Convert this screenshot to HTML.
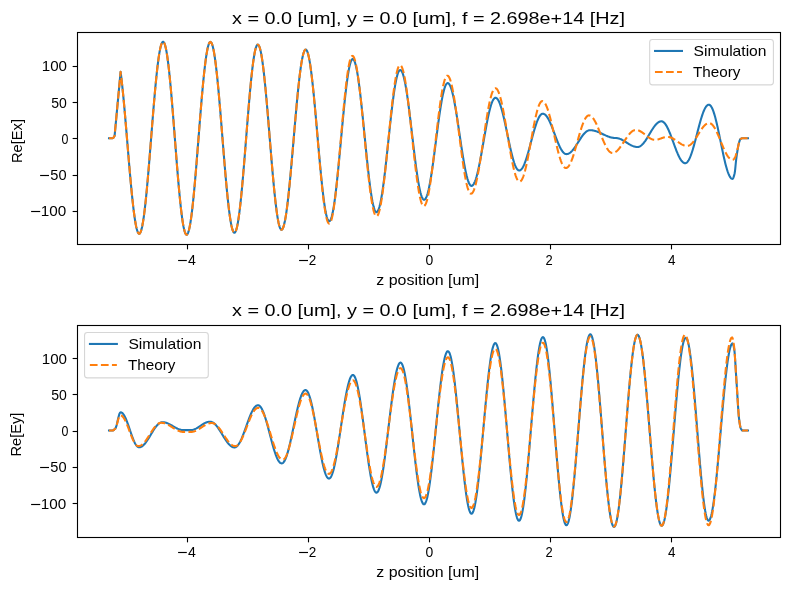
<!DOCTYPE html>
<html><head><meta charset="utf-8"><style>
html,body{margin:0;padding:0;background:#fff;width:790px;height:590px;overflow:hidden}
svg{display:block;will-change:transform}
text{fill:#000}
</style></head><body>
<svg width="790" height="590" viewBox="0 0 790 590" style="font-family:'Liberation Sans',sans-serif;">
<rect width="790" height="590" fill="#fff"/>
<path d="M109.00 138.20L112.60 138.20L113.60 137.60L114.60 135.80L120.60 71.80L121.09 75.64L121.58 79.76L122.07 84.15L122.56 88.78L123.05 93.64L123.54 98.71L124.03 103.96L124.52 109.38L125.01 114.93L125.49 120.61L125.98 126.37L126.47 132.21L126.96 138.09L127.45 143.99L127.94 149.88L128.43 155.74L128.92 161.55L129.41 167.28L129.90 172.91L130.39 178.41L130.88 183.76L131.37 188.94L131.86 193.92L132.35 198.69L132.84 203.22L133.33 207.50L133.82 211.50L134.31 215.22L134.79 218.63L135.28 221.72L135.77 224.48L136.26 226.89L136.75 228.96L137.24 230.65L137.73 231.98L138.22 232.94L138.71 233.51L139.20 233.70L139.70 233.49L140.20 232.88L140.69 231.86L141.19 230.43L141.69 228.61L142.19 226.40L142.69 223.80L143.18 220.85L143.68 217.53L144.18 213.87L144.68 209.89L145.17 205.60L145.67 201.01L146.17 196.16L146.67 191.06L147.17 185.72L147.66 180.19L148.16 174.47L148.66 168.59L149.16 162.58L149.66 156.47L150.15 150.27L150.65 144.03L151.15 137.75L151.65 131.47L152.15 125.23L152.64 119.03L153.14 112.92L153.64 106.91L154.14 101.03L154.64 95.31L155.13 89.78L155.63 84.44L156.13 79.34L156.63 74.49L157.12 69.90L157.62 65.61L158.12 61.63L158.62 57.97L159.12 54.65L159.61 51.70L160.11 49.10L160.61 46.89L161.11 45.07L161.61 43.64L162.10 42.62L162.60 42.01L163.10 41.80L163.60 42.02L164.10 42.66L164.60 43.73L165.10 45.23L165.60 47.14L166.10 49.45L166.60 52.17L167.10 55.26L167.60 58.73L168.10 62.56L168.60 66.72L169.10 71.20L169.60 75.98L170.10 81.04L170.60 86.35L171.10 91.90L171.60 97.65L172.10 103.59L172.60 109.67L173.10 115.89L173.60 122.21L174.10 128.60L174.60 135.03L175.10 141.47L175.60 147.90L176.10 154.29L176.60 160.61L177.10 166.83L177.60 172.91L178.10 178.85L178.60 184.60L179.10 190.15L179.60 195.46L180.10 200.52L180.60 205.30L181.10 209.78L181.60 213.94L182.10 217.77L182.60 221.24L183.10 224.33L183.60 227.05L184.10 229.36L184.60 231.27L185.10 232.77L185.60 233.84L186.10 234.48L186.60 234.70L187.10 234.49L187.59 233.88L188.09 232.85L188.58 231.42L189.08 229.58L189.57 227.36L190.07 224.76L190.57 221.78L191.06 218.45L191.56 214.78L192.05 210.78L192.55 206.47L193.05 201.86L193.54 196.98L194.04 191.86L194.53 186.50L195.03 180.94L195.53 175.19L196.02 169.29L196.52 163.25L197.01 157.11L197.51 150.88L198.00 144.60L198.50 138.30L199.00 132.00L199.49 125.72L199.99 119.49L200.48 113.35L200.98 107.31L201.47 101.41L201.97 95.66L202.47 90.10L202.96 84.74L203.46 79.62L203.95 74.74L204.45 70.13L204.95 65.82L205.44 61.82L205.94 58.15L206.43 54.82L206.93 51.84L207.43 49.24L207.92 47.02L208.42 45.18L208.91 43.75L209.41 42.72L209.90 42.11L210.40 41.90L210.90 42.10L211.40 42.72L211.90 43.73L212.40 45.15L212.90 46.96L213.40 49.16L213.90 51.74L214.40 54.68L214.90 57.98L215.40 61.61L215.90 65.57L216.40 69.84L216.90 74.40L217.40 79.22L217.90 84.30L218.40 89.60L218.90 95.11L219.40 100.79L219.90 106.63L220.40 112.61L220.90 118.69L221.40 124.85L221.90 131.06L222.40 137.30L222.90 143.54L223.40 149.75L223.90 155.91L224.40 161.99L224.90 167.97L225.40 173.81L225.90 179.49L226.40 185.00L226.90 190.30L227.40 195.38L227.90 200.20L228.40 204.76L228.90 209.03L229.40 212.99L229.90 216.62L230.40 219.92L230.90 222.86L231.40 225.44L231.90 227.64L232.40 229.45L232.90 230.87L233.40 231.88L233.90 232.50L234.40 232.70L234.90 232.49L235.40 231.86L235.89 230.82L236.39 229.36L236.89 227.50L237.39 225.24L237.89 222.59L238.38 219.57L238.88 216.19L239.38 212.46L239.88 208.40L240.37 204.03L240.87 199.37L241.37 194.44L241.87 189.26L242.37 183.85L242.86 178.24L243.36 172.45L243.86 166.51L244.36 160.45L244.86 154.29L245.35 148.06L245.85 141.79L246.35 135.51L246.85 129.24L247.34 123.01L247.84 116.85L248.34 110.79L248.84 104.85L249.34 99.06L249.83 93.45L250.33 88.04L250.83 82.86L251.33 77.93L251.83 73.27L252.32 68.90L252.82 64.84L253.32 61.11L253.82 57.73L254.31 54.71L254.81 52.06L255.31 49.80L255.81 47.94L256.31 46.48L256.80 45.44L257.30 44.81L257.80 44.60L258.29 44.80L258.79 45.39L259.28 46.38L259.78 47.75L260.27 49.51L260.76 51.64L261.26 54.14L261.75 57.00L262.24 60.20L262.74 63.73L263.23 67.57L263.73 71.71L264.22 76.13L264.71 80.81L265.21 85.73L265.70 90.87L266.19 96.22L266.69 101.73L267.18 107.40L267.68 113.20L268.17 119.09L268.66 125.07L269.16 131.10L269.65 137.15L270.14 143.20L270.64 149.23L271.13 155.21L271.62 161.10L272.12 166.90L272.61 172.57L273.11 178.08L273.60 183.42L274.09 188.57L274.59 193.49L275.08 198.17L275.57 202.59L276.07 206.73L276.56 210.57L277.06 214.10L277.55 217.30L278.04 220.16L278.54 222.66L279.03 224.79L279.52 226.55L280.02 227.92L280.51 228.91L281.01 229.50L281.50 229.70L281.99 229.51L282.49 228.96L282.98 228.04L283.48 226.75L283.97 225.11L284.46 223.12L284.96 220.78L285.45 218.11L285.94 215.12L286.44 211.82L286.93 208.22L287.43 204.34L287.92 200.19L288.41 195.80L288.91 191.17L289.40 186.33L289.90 181.30L290.39 176.10L290.88 170.75L291.38 165.27L291.87 159.69L292.37 154.02L292.86 148.30L293.35 142.54L293.85 136.76L294.34 131.00L294.83 125.28L295.33 119.61L295.82 114.03L296.32 108.55L296.81 103.20L297.30 98.00L297.80 92.97L298.29 88.13L298.79 83.50L299.28 79.11L299.77 74.96L300.27 71.08L300.76 67.48L301.26 64.18L301.75 61.19L302.24 58.52L302.74 56.18L303.23 54.19L303.72 52.55L304.22 51.26L304.71 50.34L305.21 49.79L305.70 49.60L306.20 49.79L306.70 50.37L307.20 51.32L307.70 52.65L308.20 54.35L308.70 56.41L309.20 58.83L309.70 61.58L310.20 64.67L310.70 68.07L311.20 71.78L311.70 75.77L312.20 80.02L312.70 84.53L313.20 89.26L313.70 94.19L314.20 99.31L314.70 104.59L315.20 110.01L315.70 115.55L316.20 121.17L316.70 126.86L317.20 132.58L317.70 138.32L318.20 144.04L318.70 149.73L319.20 155.35L319.70 160.89L320.20 166.31L320.70 171.59L321.20 176.71L321.70 181.64L322.20 186.37L322.70 190.88L323.20 195.13L323.70 199.12L324.20 202.83L324.70 206.23L325.20 209.32L325.70 212.07L326.20 214.49L326.70 216.55L327.20 218.25L327.70 219.58L328.20 220.53L328.70 221.11L329.20 221.30L329.70 221.12L330.20 220.58L330.70 219.67L331.20 218.42L331.70 216.81L332.20 214.86L332.70 212.58L333.20 209.98L333.70 207.06L334.20 203.85L334.70 200.35L335.20 196.58L335.70 192.56L336.20 188.31L336.70 183.84L337.20 179.18L337.70 174.34L338.20 169.35L338.70 164.23L339.20 159.00L339.70 153.69L340.20 148.32L340.70 142.91L341.20 137.49L341.70 132.08L342.20 126.71L342.70 121.40L343.20 116.17L343.70 111.05L344.20 106.06L344.70 101.22L345.20 96.56L345.70 92.09L346.20 87.84L346.70 83.82L347.20 80.05L347.70 76.55L348.20 73.34L348.70 70.42L349.20 67.82L349.70 65.54L350.20 63.59L350.70 61.98L351.20 60.73L351.70 59.82L352.20 59.28L352.70 59.10L353.20 59.26L353.69 59.75L354.19 60.57L354.68 61.71L355.18 63.16L355.68 64.93L356.17 66.99L356.67 69.36L357.16 72.00L357.66 74.92L358.15 78.10L358.65 81.52L359.15 85.18L359.64 89.05L360.14 93.12L360.63 97.37L361.13 101.79L361.62 106.36L362.12 111.04L362.62 115.84L363.11 120.72L363.61 125.66L364.10 130.64L364.60 135.65L365.10 140.66L365.59 145.64L366.09 150.58L366.58 155.46L367.08 160.26L367.57 164.94L368.07 169.51L368.57 173.92L369.06 178.18L369.56 182.25L370.05 186.12L370.55 189.78L371.05 193.20L371.54 196.38L372.04 199.30L372.53 201.94L373.03 204.31L373.52 206.37L374.02 208.14L374.52 209.59L375.01 210.73L375.51 211.55L376.00 212.04L376.50 212.20L376.99 212.05L377.49 211.59L377.98 210.83L378.48 209.78L378.97 208.43L379.46 206.79L379.96 204.87L380.45 202.67L380.94 200.22L381.44 197.51L381.93 194.56L382.43 191.38L382.92 187.98L383.41 184.38L383.91 180.60L384.40 176.65L384.89 172.55L385.39 168.31L385.88 163.95L386.38 159.50L386.87 154.97L387.36 150.38L387.86 145.75L388.35 141.10L388.84 136.45L389.34 131.82L389.83 127.23L390.32 122.70L390.82 118.25L391.31 113.89L391.81 109.65L392.30 105.55L392.79 101.60L393.29 97.82L393.78 94.22L394.27 90.82L394.77 87.64L395.26 84.69L395.76 81.98L396.25 79.53L396.74 77.33L397.24 75.41L397.73 73.77L398.22 72.42L398.72 71.37L399.21 70.61L399.71 70.15L400.20 70.00L400.70 70.14L401.20 70.56L401.69 71.25L402.19 72.21L402.69 73.44L403.19 74.94L403.69 76.69L404.18 78.69L404.68 80.94L405.18 83.41L405.68 86.11L406.18 89.01L406.67 92.11L407.17 95.39L407.67 98.84L408.17 102.45L408.66 106.20L409.16 110.06L409.66 114.04L410.16 118.10L410.66 122.24L411.15 126.43L411.65 130.66L412.15 134.90L412.65 139.14L413.15 143.37L413.64 147.56L414.14 151.70L414.64 155.76L415.14 159.74L415.64 163.60L416.13 167.35L416.63 170.96L417.13 174.41L417.63 177.69L418.12 180.79L418.62 183.69L419.12 186.39L419.62 188.86L420.12 191.11L420.61 193.11L421.11 194.86L421.61 196.36L422.11 197.59L422.61 198.55L423.10 199.24L423.60 199.66L424.10 199.80L424.59 199.68L425.08 199.30L425.58 198.68L426.07 197.81L426.56 196.70L427.05 195.36L427.54 193.78L428.03 191.98L428.53 189.97L429.02 187.74L429.51 185.32L430.00 182.71L430.49 179.92L430.98 176.97L431.48 173.87L431.97 170.62L432.46 167.26L432.95 163.78L433.44 160.21L433.93 156.55L434.43 152.83L434.92 149.07L435.41 145.27L435.90 141.45L436.39 137.63L436.88 133.83L437.38 130.07L437.87 126.35L438.36 122.69L438.85 119.12L439.34 115.64L439.83 112.28L440.32 109.03L440.82 105.93L441.31 102.98L441.80 100.19L442.29 97.58L442.78 95.16L443.27 92.93L443.77 90.92L444.26 89.12L444.75 87.54L445.24 86.20L445.73 85.09L446.22 84.22L446.72 83.60L447.21 83.22L447.70 83.10L448.20 83.21L448.69 83.54L449.19 84.09L449.68 84.85L450.18 85.83L450.68 87.01L451.17 88.40L451.67 89.99L452.16 91.76L452.66 93.72L453.15 95.86L453.65 98.15L454.15 100.61L454.64 103.21L455.14 105.94L455.63 108.80L456.13 111.77L456.62 114.83L457.12 117.98L457.62 121.20L458.11 124.47L458.61 127.79L459.10 131.14L459.60 134.50L460.10 137.86L460.59 141.21L461.09 144.53L461.58 147.80L462.08 151.02L462.57 154.17L463.07 157.23L463.57 160.20L464.06 163.06L464.56 165.79L465.05 168.39L465.55 170.85L466.05 173.14L466.54 175.28L467.04 177.24L467.53 179.01L468.03 180.60L468.52 181.99L469.02 183.17L469.52 184.15L470.01 184.91L470.51 185.46L471.00 185.79L471.50 185.90L472.00 185.81L472.50 185.52L473.00 185.05L473.50 184.40L474.00 183.56L474.50 182.55L475.00 181.36L475.50 180.00L476.00 178.48L476.50 176.80L477.00 174.97L477.50 173.00L478.00 170.89L478.50 168.67L479.00 166.32L479.50 163.88L480.00 161.33L480.50 158.71L481.00 156.01L481.50 153.25L482.00 150.44L482.50 147.60L483.00 144.73L483.50 141.85L484.00 138.97L484.50 136.10L485.00 133.26L485.50 130.45L486.00 127.69L486.50 124.99L487.00 122.37L487.50 119.83L488.00 117.38L488.50 115.03L489.00 112.81L489.50 110.70L490.00 108.73L490.50 106.90L491.00 105.22L491.50 103.70L492.00 102.34L492.50 101.15L493.00 100.14L493.50 99.30L494.00 98.65L494.50 98.18L495.00 97.89L495.50 97.80L495.99 97.88L496.49 98.11L496.98 98.50L497.48 99.04L497.97 99.73L498.46 100.57L498.96 101.55L499.45 102.67L499.94 103.93L500.44 105.31L500.93 106.82L501.43 108.45L501.92 110.18L502.41 112.02L502.91 113.96L503.40 115.97L503.89 118.07L504.39 120.24L504.88 122.47L505.38 124.74L505.87 127.06L506.36 129.41L506.86 131.77L507.35 134.15L507.84 136.53L508.34 138.89L508.83 141.24L509.33 143.56L509.82 145.83L510.31 148.06L510.81 150.23L511.30 152.32L511.79 154.34L512.29 156.28L512.78 158.12L513.28 159.85L513.77 161.48L514.26 162.99L514.76 164.37L515.25 165.63L515.74 166.75L516.24 167.73L516.73 168.57L517.23 169.26L517.72 169.80L518.21 170.19L518.71 170.42L519.20 170.50L519.69 170.44L520.18 170.26L520.68 169.95L521.17 169.53L521.66 168.99L522.15 168.34L522.64 167.57L523.13 166.70L523.62 165.71L524.12 164.63L524.61 163.45L525.10 162.18L525.59 160.83L526.08 159.39L526.58 157.88L527.07 156.30L527.56 154.66L528.05 152.97L528.54 151.23L529.03 149.45L529.52 147.64L530.02 145.81L530.51 143.96L531.00 142.10L531.49 140.24L531.98 138.39L532.48 136.56L532.97 134.75L533.46 132.97L533.95 131.23L534.44 129.54L534.93 127.90L535.42 126.32L535.92 124.81L536.41 123.37L536.90 122.02L537.39 120.75L537.88 119.57L538.38 118.49L538.87 117.50L539.36 116.63L539.85 115.86L540.34 115.21L540.83 114.67L541.32 114.25L541.82 113.94L542.31 113.76L542.80 113.70L543.29 113.74L543.78 113.87L544.27 114.09L544.77 114.39L545.26 114.77L545.75 115.24L546.24 115.78L546.73 116.41L547.22 117.10L547.72 117.87L548.21 118.71L548.70 119.62L549.19 120.58L549.68 121.60L550.17 122.68L550.67 123.80L551.16 124.97L551.65 126.17L552.14 127.41L552.63 128.67L553.12 129.96L553.62 131.26L554.11 132.58L554.60 133.90L555.09 135.22L555.58 136.54L556.07 137.84L556.57 139.13L557.06 140.39L557.55 141.63L558.04 142.83L558.53 144.00L559.02 145.12L559.52 146.20L560.01 147.22L560.50 148.18L560.99 149.09L561.48 149.93L561.98 150.70L562.47 151.39L562.96 152.02L563.45 152.56L563.94 153.03L564.43 153.41L564.92 153.71L565.42 153.93L565.91 154.06L566.40 154.10L566.89 154.07L567.38 154.00L567.88 153.87L568.37 153.69L568.86 153.47L569.35 153.19L569.84 152.87L570.33 152.50L570.82 152.09L571.32 151.63L571.81 151.13L572.30 150.60L572.79 150.03L573.28 149.42L573.77 148.79L574.27 148.12L574.76 147.44L575.25 146.72L575.74 145.99L576.23 145.24L576.73 144.48L577.22 143.71L577.71 142.93L578.20 142.15L578.69 141.37L579.18 140.59L579.67 139.82L580.17 139.06L580.66 138.31L581.15 137.58L581.64 136.86L582.13 136.17L582.62 135.51L583.12 134.88L583.61 134.27L584.10 133.70L584.59 133.17L585.08 132.67L585.58 132.21L586.07 131.80L586.56 131.43L587.05 131.11L587.54 130.83L588.03 130.61L588.52 130.43L589.02 130.30L589.51 130.23L590.00 130.20L590.50 130.21L591.00 130.23L591.50 130.27L592.00 130.32L592.50 130.38L593.00 130.46L593.50 130.56L594.00 130.66L594.50 130.78L595.00 130.92L595.50 131.06L596.00 131.22L596.50 131.39L597.00 131.56L597.50 131.75L598.00 131.95L598.50 132.15L599.00 132.36L599.50 132.58L600.00 132.80L600.50 133.03L601.00 133.27L601.50 133.50L602.00 133.74L602.50 133.98L603.00 134.22L603.50 134.46L604.00 134.70L604.50 134.93L605.00 135.17L605.50 135.40L606.00 135.62L606.50 135.84L607.00 136.05L607.50 136.25L608.00 136.45L608.50 136.64L609.00 136.81L609.50 136.98L610.00 137.14L610.50 137.28L611.00 137.42L611.50 137.54L612.00 137.64L612.50 137.74L613.00 137.82L613.50 137.88L614.00 137.93L614.50 137.97L615.00 137.99L615.50 138.00L616.00 138.01L616.50 138.05L617.00 138.10L617.50 138.18L618.00 138.28L618.50 138.41L619.00 138.55L619.50 138.71L620.00 138.90L620.50 139.10L621.00 139.32L621.50 139.55L622.00 139.80L622.50 140.07L623.00 140.34L623.50 140.63L624.00 140.93L624.50 141.23L625.00 141.54L625.50 141.86L626.00 142.18L626.50 142.50L627.00 142.82L627.50 143.14L628.00 143.46L628.50 143.77L629.00 144.07L629.50 144.37L630.00 144.66L630.50 144.93L631.00 145.20L631.50 145.45L632.00 145.68L632.50 145.90L633.00 146.10L633.50 146.29L634.00 146.45L634.50 146.59L635.00 146.72L635.50 146.82L636.00 146.90L636.50 146.95L637.00 146.99L637.50 147.00L638.00 146.97L638.50 146.89L638.99 146.75L639.49 146.56L639.99 146.32L640.49 146.02L640.99 145.67L641.48 145.28L641.98 144.83L642.48 144.34L642.98 143.81L643.48 143.24L643.97 142.62L644.47 141.97L644.97 141.29L645.47 140.57L645.96 139.83L646.46 139.07L646.96 138.28L647.46 137.48L647.96 136.66L648.45 135.83L648.95 134.99L649.45 134.15L649.95 133.31L650.45 132.47L650.94 131.64L651.44 130.82L651.94 130.02L652.44 129.23L652.94 128.47L653.43 127.72L653.93 127.01L654.43 126.33L654.93 125.68L655.42 125.06L655.92 124.49L656.42 123.96L656.92 123.47L657.42 123.02L657.91 122.63L658.41 122.28L658.91 121.98L659.41 121.74L659.91 121.55L660.40 121.41L660.90 121.33L661.40 121.30L661.90 121.34L662.39 121.48L662.89 121.70L663.38 122.01L663.88 122.41L664.38 122.89L664.87 123.46L665.37 124.11L665.86 124.83L666.36 125.63L666.85 126.50L667.35 127.44L667.85 128.44L668.34 129.50L668.84 130.61L669.33 131.78L669.83 132.98L670.33 134.23L670.82 135.52L671.32 136.83L671.81 138.16L672.31 139.52L672.80 140.88L673.30 142.25L673.80 143.62L674.29 144.98L674.79 146.34L675.28 147.67L675.78 148.98L676.27 150.27L676.77 151.52L677.27 152.72L677.76 153.89L678.26 155.00L678.75 156.06L679.25 157.06L679.75 158.00L680.24 158.87L680.74 159.67L681.23 160.39L681.73 161.04L682.23 161.61L682.72 162.09L683.22 162.49L683.71 162.80L684.21 163.02L684.70 163.16L685.20 163.20L685.69 163.14L686.18 162.95L686.68 162.64L687.17 162.20L687.66 161.65L688.15 160.97L688.64 160.18L689.13 159.28L689.62 158.27L690.12 157.16L690.61 155.94L691.10 154.63L691.59 153.24L692.08 151.76L692.58 150.20L693.07 148.57L693.56 146.89L694.05 145.14L694.54 143.35L695.03 141.52L695.52 139.66L696.02 137.77L696.51 135.86L697.00 133.95L697.49 132.04L697.98 130.13L698.48 128.24L698.97 126.38L699.46 124.55L699.95 122.76L700.44 121.01L700.93 119.33L701.42 117.70L701.92 116.14L702.41 114.66L702.90 113.27L703.39 111.96L703.88 110.74L704.38 109.63L704.87 108.62L705.36 107.72L705.85 106.93L706.34 106.25L706.83 105.70L707.32 105.26L707.82 104.95L708.31 104.76L708.80 104.70L709.29 104.78L709.79 105.02L710.28 105.41L710.77 105.96L711.27 106.67L711.76 107.52L712.26 108.53L712.75 109.67L713.24 110.95L713.74 112.37L714.23 113.91L714.72 115.57L715.22 117.34L715.71 119.21L716.21 121.19L716.70 123.25L717.19 125.39L717.69 127.60L718.18 129.87L718.67 132.20L719.17 134.56L719.66 136.96L720.16 139.37L720.65 141.80L721.14 144.23L721.64 146.64L722.13 149.04L722.62 151.40L723.12 153.73L723.61 156.00L724.11 158.21L724.60 160.35L725.09 162.41L725.59 164.39L726.08 166.26L726.58 168.03L727.07 169.69L727.56 171.23L728.06 172.65L728.55 173.93L729.04 175.07L729.54 176.08L730.03 176.93L730.52 177.64L731.02 178.19L731.51 178.58L732.01 178.82L732.50 178.90L732.85 178.70L733.20 178.13L733.55 177.27L733.90 176.17L734.25 174.89L734.60 173.50L734.92 171.59L735.24 168.77L735.56 165.50L735.88 162.23L736.20 159.40L736.53 156.97L736.85 154.67L737.17 152.52L737.50 150.50L737.85 148.40L738.20 146.37L738.55 144.55L738.90 143.10L739.27 141.81L739.65 140.65L740.02 139.73L740.40 139.20L740.77 138.92L741.13 138.68L741.50 138.48L741.87 138.33L742.23 138.23L742.60 138.20L748.00 138.20" fill="none" stroke="#1f77b4" stroke-width="2.08" stroke-linejoin="round" stroke-linecap="square"/>
<path d="M109.00 138.20L112.60 138.20L113.60 137.60L114.60 135.80L120.60 71.80L121.09 75.64L121.58 79.76L122.07 84.15L122.56 88.78L123.05 93.64L123.54 98.71L124.03 103.96L124.52 109.38L125.01 114.93L125.49 120.61L125.98 126.37L126.47 132.21L126.96 138.09L127.45 143.99L127.94 149.88L128.43 155.74L128.92 161.55L129.41 167.28L129.90 172.91L130.39 178.41L130.88 183.76L131.37 188.94L131.86 193.92L132.35 198.69L132.84 203.22L133.33 207.50L133.82 211.50L134.31 215.22L134.79 218.63L135.28 221.72L135.77 224.48L136.26 226.89L136.75 228.96L137.24 230.65L137.73 231.98L138.22 232.94L138.71 233.51L139.20 233.70L139.70 233.49L140.20 232.88L140.69 231.86L141.19 230.43L141.69 228.61L142.19 226.40L142.69 223.80L143.18 220.85L143.68 217.53L144.18 213.87L144.68 209.89L145.17 205.60L145.67 201.01L146.17 196.16L146.67 191.06L147.17 185.72L147.66 180.19L148.16 174.47L148.66 168.59L149.16 162.58L149.66 156.47L150.15 150.27L150.65 144.03L151.15 137.75L151.65 131.47L152.15 125.23L152.64 119.03L153.14 112.92L153.64 106.91L154.14 101.03L154.64 95.31L155.13 89.78L155.63 84.44L156.13 79.34L156.63 74.49L157.12 69.90L157.62 65.61L158.12 61.63L158.62 57.97L159.12 54.65L159.61 51.70L160.11 49.10L160.61 46.89L161.11 45.07L161.61 43.64L162.10 42.62L162.60 42.01L163.10 41.80L163.60 42.02L164.10 42.66L164.60 43.73L165.10 45.23L165.60 47.14L166.10 49.45L166.60 52.17L167.10 55.26L167.60 58.73L168.10 62.56L168.60 66.72L169.10 71.20L169.60 75.98L170.10 81.04L170.60 86.35L171.10 91.90L171.60 97.65L172.10 103.59L172.60 109.67L173.10 115.89L173.60 122.21L174.10 128.60L174.60 135.03L175.10 141.47L175.60 147.90L176.10 154.29L176.60 160.61L177.10 166.83L177.60 172.91L178.10 178.85L178.60 184.60L179.10 190.15L179.60 195.46L180.10 200.52L180.60 205.30L181.10 209.78L181.60 213.94L182.10 217.77L182.60 221.24L183.10 224.33L183.60 227.05L184.10 229.36L184.60 231.27L185.10 232.77L185.60 233.84L186.10 234.48L186.60 234.70L187.10 234.49L187.59 233.88L188.09 232.85L188.58 231.42L189.08 229.58L189.57 227.36L190.07 224.76L190.57 221.78L191.06 218.45L191.56 214.78L192.05 210.78L192.55 206.47L193.05 201.86L193.54 196.98L194.04 191.86L194.53 186.50L195.03 180.94L195.53 175.19L196.02 169.29L196.52 163.25L197.01 157.11L197.51 150.88L198.00 144.60L198.50 138.30L199.00 132.00L199.49 125.72L199.99 119.49L200.48 113.35L200.98 107.31L201.47 101.41L201.97 95.66L202.47 90.10L202.96 84.74L203.46 79.62L203.95 74.74L204.45 70.13L204.95 65.82L205.44 61.82L205.94 58.15L206.43 54.82L206.93 51.84L207.43 49.24L207.92 47.02L208.42 45.18L208.91 43.75L209.41 42.72L209.90 42.11L210.40 41.90L210.90 42.10L211.40 42.72L211.90 43.73L212.40 45.15L212.90 46.96L213.40 49.16L213.90 51.74L214.40 54.68L214.90 57.98L215.40 61.61L215.90 65.57L216.40 69.84L216.90 74.40L217.40 79.22L217.90 84.30L218.40 89.60L218.90 95.11L219.40 100.79L219.90 106.63L220.40 112.61L220.90 118.69L221.40 124.85L221.90 131.06L222.40 137.30L222.90 143.54L223.40 149.75L223.90 155.91L224.40 161.99L224.90 167.97L225.40 173.81L225.90 179.49L226.40 185.00L226.90 190.30L227.40 195.38L227.90 200.20L228.40 204.76L228.90 209.03L229.40 212.99L229.90 216.62L230.40 219.92L230.90 222.86L231.40 225.44L231.90 227.64L232.40 229.45L232.90 230.87L233.40 231.88L233.90 232.50L234.40 232.70L234.90 232.49L235.40 231.86L235.89 230.82L236.39 229.36L236.89 227.50L237.39 225.24L237.89 222.59L238.38 219.57L238.88 216.19L239.38 212.46L239.88 208.40L240.37 204.03L240.87 199.37L241.37 194.44L241.87 189.26L242.37 183.85L242.86 178.24L243.36 172.45L243.86 166.51L244.36 160.45L244.86 154.29L245.35 148.06L245.85 141.79L246.35 135.51L246.85 129.24L247.34 123.01L247.84 116.85L248.34 110.79L248.84 104.85L249.34 99.06L249.83 93.45L250.33 88.04L250.83 82.86L251.33 77.93L251.83 73.27L252.32 68.90L252.82 64.84L253.32 61.11L253.82 57.73L254.31 54.71L254.81 52.06L255.31 49.80L255.81 47.94L256.31 46.48L256.80 45.44L257.30 44.81L257.80 44.60L258.29 44.80L258.79 45.39L259.28 46.38L259.78 47.75L260.27 49.51L260.76 51.64L261.26 54.14L261.75 57.00L262.24 60.20L262.74 63.73L263.23 67.57L263.73 71.71L264.22 76.13L264.71 80.81L265.21 85.73L265.70 90.87L266.19 96.22L266.69 101.73L267.18 107.40L267.68 113.20L268.17 119.09L268.66 125.07L269.16 131.10L269.65 137.15L270.14 143.20L270.64 149.23L271.13 155.21L271.62 161.10L272.12 166.90L272.61 172.57L273.11 178.08L273.60 183.42L274.09 188.57L274.59 193.49L275.08 198.17L275.57 202.59L276.07 206.73L276.56 210.57L277.06 214.10L277.55 217.30L278.04 220.16L278.54 222.66L279.03 224.79L279.52 226.55L280.02 227.92L280.51 228.91L281.01 229.50L281.50 229.70L281.99 229.51L282.49 228.96L282.98 228.04L283.48 226.75L283.97 225.11L284.46 223.12L284.96 220.78L285.45 218.11L285.94 215.12L286.44 211.82L286.93 208.22L287.43 204.34L287.92 200.19L288.41 195.80L288.91 191.17L289.40 186.33L289.90 181.30L290.39 176.10L290.88 170.75L291.38 165.27L291.87 159.69L292.37 154.02L292.86 148.30L293.35 142.54L293.85 136.76L294.34 131.00L294.83 125.28L295.33 119.61L295.82 114.03L296.32 108.55L296.81 103.20L297.30 98.00L297.80 92.97L298.29 88.13L298.79 83.50L299.28 79.11L299.77 74.96L300.27 71.08L300.76 67.48L301.26 64.18L301.75 61.19L302.24 58.52L302.74 56.18L303.23 54.19L303.72 52.55L304.22 51.26L304.71 50.34L305.21 49.79L305.70 49.60L306.20 49.79L306.70 50.38L307.20 51.34L307.70 52.69L308.20 54.41L308.70 56.50L309.20 58.95L309.70 61.75L310.20 64.87L310.70 68.32L311.20 72.08L311.70 76.12L312.20 80.43L312.70 84.99L313.20 89.79L313.70 94.79L314.20 99.98L314.70 105.33L315.20 110.82L315.70 116.43L316.20 122.13L316.70 127.89L317.20 133.69L317.70 139.51L318.20 145.31L318.70 151.07L319.20 156.77L319.70 162.38L320.20 167.87L320.70 173.22L321.20 178.41L321.70 183.41L322.20 188.21L322.70 192.77L323.20 197.08L323.70 201.12L324.20 204.88L324.70 208.33L325.20 211.45L325.70 214.25L326.20 216.70L326.70 218.79L327.20 220.51L327.70 221.86L328.20 222.82L328.70 223.41L329.20 223.60L329.69 223.41L330.19 222.85L330.68 221.92L331.17 220.62L331.67 218.96L332.16 216.95L332.66 214.59L333.15 211.89L333.64 208.88L334.14 205.56L334.63 201.94L335.12 198.04L335.62 193.89L336.11 189.49L336.60 184.87L337.10 180.05L337.59 175.05L338.09 169.89L338.58 164.59L339.07 159.19L339.57 153.70L340.06 148.14L340.55 142.55L341.05 136.95L341.54 131.36L342.03 125.80L342.53 120.31L343.02 114.91L343.51 109.61L344.01 104.45L344.50 99.45L345.00 94.63L345.49 90.01L345.98 85.61L346.48 81.46L346.97 77.56L347.46 73.94L347.96 70.62L348.45 67.61L348.94 64.91L349.44 62.55L349.93 60.54L350.43 58.88L350.92 57.58L351.41 56.65L351.91 56.09L352.40 55.90L352.89 56.06L353.38 56.56L353.88 57.38L354.37 58.52L354.86 59.99L355.35 61.76L355.84 63.84L356.33 66.22L356.83 68.89L357.32 71.83L357.81 75.03L358.30 78.49L358.79 82.18L359.29 86.10L359.78 90.22L360.27 94.52L360.76 99.00L361.25 103.64L361.74 108.40L362.24 113.28L362.73 118.25L363.22 123.30L363.71 128.40L364.20 133.53L364.70 138.67L365.19 143.80L365.68 148.90L366.17 153.95L366.66 158.92L367.16 163.80L367.65 168.56L368.14 173.20L368.63 177.68L369.12 181.98L369.61 186.10L370.11 190.02L370.60 193.71L371.09 197.17L371.58 200.37L372.07 203.31L372.57 205.98L373.06 208.36L373.55 210.44L374.04 212.21L374.53 213.68L375.02 214.82L375.52 215.64L376.01 216.14L376.50 216.30L376.99 216.14L377.48 215.65L377.98 214.85L378.47 213.73L378.96 212.29L379.45 210.55L379.94 208.51L380.43 206.18L380.93 203.57L381.42 200.69L381.91 197.55L382.40 194.17L382.89 190.56L383.38 186.74L383.88 182.72L384.37 178.53L384.86 174.16L385.35 169.66L385.84 165.03L386.33 160.30L386.82 155.49L387.32 150.61L387.81 145.69L388.30 140.75L388.79 135.81L389.28 130.89L389.78 126.01L390.27 121.20L390.76 116.47L391.25 111.84L391.74 107.34L392.23 102.98L392.73 98.78L393.22 94.76L393.71 90.94L394.20 87.33L394.69 83.95L395.18 80.81L395.68 77.93L396.17 75.32L396.66 72.99L397.15 70.95L397.64 69.21L398.13 67.77L398.62 66.65L399.12 65.85L399.61 65.36L400.10 65.20L400.59 65.35L401.09 65.80L401.58 66.55L402.08 67.60L402.57 68.94L403.06 70.56L403.56 72.47L404.05 74.64L404.54 77.07L405.04 79.76L405.53 82.68L406.03 85.83L406.52 89.20L407.01 92.76L407.51 96.51L408.00 100.42L408.49 104.49L408.99 108.69L409.48 113.00L409.98 117.42L410.47 121.91L410.96 126.45L411.46 131.04L411.95 135.65L412.44 140.26L412.94 144.85L413.43 149.39L413.93 153.88L414.42 158.30L414.91 162.61L415.41 166.81L415.90 170.87L416.39 174.79L416.89 178.54L417.38 182.10L417.88 185.47L418.37 188.62L418.86 191.54L419.36 194.23L419.85 196.66L420.34 198.83L420.84 200.74L421.33 202.36L421.82 203.70L422.32 204.75L422.81 205.50L423.31 205.95L423.80 206.10L424.29 205.96L424.78 205.54L425.28 204.85L425.77 203.88L426.26 202.64L426.75 201.14L427.24 199.38L427.73 197.36L428.23 195.11L428.72 192.63L429.21 189.92L429.70 187.00L430.19 183.89L430.68 180.59L431.18 177.12L431.67 173.50L432.16 169.74L432.65 165.85L433.14 161.86L433.63 157.78L434.12 153.62L434.62 149.41L435.11 145.16L435.60 140.90L436.09 136.64L436.58 132.39L437.07 128.18L437.57 124.02L438.06 119.94L438.55 115.95L439.04 112.06L439.53 108.30L440.02 104.68L440.52 101.21L441.01 97.91L441.50 94.80L441.99 91.88L442.48 89.17L442.97 86.69L443.47 84.44L443.96 82.42L444.45 80.66L444.94 79.16L445.43 77.92L445.92 76.95L446.42 76.26L446.91 75.84L447.40 75.70L447.89 75.83L448.38 76.20L448.88 76.83L449.37 77.71L449.86 78.83L450.35 80.19L450.84 81.78L451.33 83.60L451.82 85.64L452.32 87.89L452.81 90.34L453.30 92.98L453.79 95.80L454.28 98.78L454.77 101.92L455.27 105.20L455.76 108.60L456.25 112.12L456.74 115.74L457.23 119.43L457.72 123.19L458.22 127.00L458.71 130.84L459.20 134.70L459.69 138.56L460.18 142.40L460.68 146.21L461.17 149.97L461.66 153.66L462.15 157.28L462.64 160.80L463.13 164.20L463.62 167.48L464.12 170.62L464.61 173.60L465.10 176.42L465.59 179.06L466.08 181.51L466.57 183.76L467.07 185.80L467.56 187.62L468.05 189.21L468.54 190.57L469.03 191.69L469.52 192.57L470.02 193.20L470.51 193.57L471.00 193.70L471.50 193.59L472.00 193.27L472.49 192.73L472.99 191.97L473.49 191.01L473.99 189.84L474.49 188.48L474.98 186.91L475.48 185.16L475.98 183.22L476.48 181.12L476.98 178.84L477.47 176.41L477.97 173.84L478.47 171.13L478.97 168.30L479.47 165.35L479.96 162.30L480.46 159.17L480.96 155.96L481.46 152.69L481.96 149.37L482.45 146.02L482.95 142.64L483.45 139.26L483.95 135.88L484.44 132.53L484.94 129.21L485.44 125.94L485.94 122.73L486.44 119.60L486.93 116.55L487.43 113.60L487.93 110.77L488.43 108.06L488.93 105.49L489.42 103.06L489.92 100.78L490.42 98.68L490.92 96.74L491.42 94.99L491.91 93.42L492.41 92.06L492.91 90.89L493.41 89.93L493.91 89.17L494.40 88.63L494.90 88.31L495.40 88.20L495.89 88.30L496.39 88.58L496.88 89.06L497.38 89.73L497.87 90.58L498.36 91.61L498.86 92.82L499.35 94.21L499.84 95.76L500.34 97.47L500.83 99.34L501.33 101.35L501.82 103.50L502.31 105.78L502.81 108.18L503.30 110.69L503.80 113.30L504.29 116.00L504.78 118.77L505.28 121.61L505.77 124.51L506.27 127.45L506.76 130.42L507.25 133.40L507.75 136.40L508.24 139.38L508.73 142.35L509.23 145.29L509.72 148.19L510.22 151.03L510.71 153.80L511.20 156.50L511.70 159.11L512.19 161.62L512.69 164.02L513.18 166.30L513.67 168.45L514.17 170.46L514.66 172.33L515.16 174.04L515.65 175.59L516.14 176.98L516.64 178.19L517.13 179.22L517.62 180.07L518.12 180.74L518.61 181.22L519.11 181.50L519.60 181.60L520.09 181.51L520.59 181.23L521.08 180.76L521.57 180.11L522.07 179.28L522.56 178.27L523.05 177.09L523.55 175.74L524.04 174.23L524.53 172.57L525.03 170.77L525.52 168.82L526.02 166.75L526.51 164.56L527.00 162.26L527.50 159.87L527.99 157.39L528.48 154.83L528.98 152.21L529.47 149.54L529.96 146.83L530.46 144.10L530.95 141.35L531.44 138.60L531.94 135.87L532.43 133.16L532.92 130.49L533.42 127.87L533.91 125.31L534.40 122.83L534.90 120.44L535.39 118.14L535.88 115.95L536.38 113.88L536.87 111.93L537.37 110.13L537.86 108.47L538.35 106.96L538.85 105.61L539.34 104.43L539.83 103.42L540.33 102.59L540.82 101.94L541.31 101.47L541.81 101.19L542.30 101.10L542.79 101.17L543.28 101.39L543.77 101.74L544.27 102.24L544.76 102.88L545.25 103.65L545.74 104.55L546.23 105.58L546.72 106.74L547.22 108.01L547.71 109.40L548.20 110.90L548.69 112.49L549.18 114.19L549.67 115.97L550.17 117.82L550.66 119.76L551.15 121.75L551.64 123.80L552.13 125.89L552.62 128.02L553.12 130.18L553.61 132.36L554.10 134.55L554.59 136.74L555.08 138.92L555.57 141.08L556.07 143.21L556.56 145.30L557.05 147.35L557.54 149.34L558.03 151.27L558.52 153.13L559.02 154.91L559.51 156.61L560.00 158.20L560.49 159.70L560.98 161.09L561.48 162.36L561.97 163.52L562.46 164.55L562.95 165.45L563.44 166.22L563.93 166.86L564.42 167.36L564.92 167.71L565.41 167.93L565.90 168.00L566.40 167.94L566.90 167.76L567.40 167.45L567.90 167.02L568.40 166.48L568.90 165.82L569.40 165.05L569.90 164.17L570.40 163.19L570.90 162.10L571.40 160.92L571.90 159.65L572.40 158.30L572.90 156.87L573.40 155.37L573.90 153.80L574.40 152.18L574.90 150.51L575.40 148.80L575.90 147.05L576.40 145.28L576.90 143.49L577.40 141.70L577.90 139.91L578.40 138.12L578.90 136.35L579.40 134.60L579.90 132.89L580.40 131.22L580.90 129.60L581.40 128.03L581.90 126.53L582.40 125.10L582.90 123.75L583.40 122.48L583.90 121.30L584.40 120.21L584.90 119.23L585.40 118.35L585.90 117.58L586.40 116.92L586.90 116.38L587.40 115.95L587.90 115.64L588.40 115.46L588.90 115.40L589.40 115.44L589.90 115.57L590.40 115.78L590.90 116.07L591.40 116.44L591.90 116.89L592.40 117.42L592.90 118.02L593.40 118.70L593.90 119.44L594.40 120.25L594.90 121.12L595.40 122.05L595.90 123.04L596.40 124.07L596.90 125.15L597.40 126.27L597.90 127.43L598.40 128.61L598.90 129.82L599.40 131.05L599.90 132.30L600.40 133.55L600.90 134.80L601.40 136.05L601.90 137.30L602.40 138.53L602.90 139.74L603.40 140.92L603.90 142.08L604.40 143.20L604.90 144.28L605.40 145.31L605.90 146.30L606.40 147.23L606.90 148.10L607.40 148.91L607.90 149.65L608.40 150.33L608.90 150.93L609.40 151.46L609.90 151.91L610.40 152.28L610.90 152.57L611.40 152.78L611.90 152.91L612.40 152.95L612.90 152.92L613.40 152.85L613.89 152.72L614.39 152.54L614.89 152.32L615.39 152.04L615.89 151.72L616.38 151.35L616.88 150.94L617.38 150.48L617.88 149.99L618.37 149.45L618.87 148.88L619.37 148.28L619.87 147.65L620.37 146.99L620.86 146.31L621.36 145.60L621.86 144.87L622.36 144.14L622.86 143.38L623.35 142.62L623.85 141.86L624.35 141.09L624.85 140.33L625.34 139.57L625.84 138.81L626.34 138.08L626.84 137.35L627.34 136.64L627.83 135.96L628.33 135.30L628.83 134.67L629.33 134.07L629.83 133.50L630.32 132.96L630.82 132.47L631.32 132.01L631.82 131.60L632.31 131.23L632.81 130.91L633.31 130.63L633.81 130.41L634.31 130.23L634.80 130.10L635.30 130.03L635.80 130.00L636.29 130.02L636.78 130.06L637.28 130.14L637.77 130.25L638.26 130.39L638.75 130.56L639.25 130.76L639.74 130.98L640.23 131.23L640.72 131.51L641.22 131.80L641.71 132.12L642.20 132.45L642.69 132.80L643.18 133.16L643.68 133.54L644.17 133.92L644.66 134.31L645.15 134.70L645.65 135.10L646.14 135.49L646.63 135.88L647.12 136.26L647.62 136.64L648.11 137.00L648.60 137.35L649.09 137.68L649.58 138.00L650.08 138.29L650.57 138.57L651.06 138.82L651.55 139.04L652.05 139.24L652.54 139.41L653.03 139.55L653.52 139.66L654.02 139.74L654.51 139.78L655.00 139.80L655.50 139.79L655.99 139.75L656.49 139.70L656.98 139.62L657.48 139.52L657.98 139.41L658.47 139.27L658.97 139.13L659.46 138.97L659.96 138.80L660.46 138.62L660.95 138.44L661.45 138.26L661.94 138.08L662.44 137.90L662.94 137.73L663.43 137.57L663.93 137.43L664.42 137.29L664.92 137.18L665.42 137.08L665.91 137.00L666.41 136.95L666.90 136.91L667.40 136.90L667.89 136.91L668.39 136.96L668.88 137.02L669.38 137.12L669.88 137.24L670.37 137.39L670.87 137.56L671.36 137.76L671.86 137.98L672.35 138.22L672.85 138.48L673.34 138.75L673.84 139.05L674.33 139.36L674.83 139.68L675.32 140.01L675.82 140.35L676.31 140.70L676.81 141.05L677.30 141.40L677.79 141.75L678.29 142.10L678.78 142.45L679.28 142.79L679.77 143.12L680.27 143.44L680.76 143.75L681.26 144.05L681.75 144.32L682.25 144.58L682.75 144.82L683.24 145.04L683.74 145.24L684.23 145.41L684.73 145.56L685.22 145.68L685.72 145.78L686.21 145.84L686.71 145.89L687.20 145.90L687.70 145.87L688.20 145.78L688.69 145.64L689.19 145.44L689.69 145.18L690.19 144.87L690.68 144.51L691.18 144.09L691.68 143.63L692.18 143.12L692.68 142.56L693.17 141.97L693.67 141.33L694.17 140.66L694.67 139.96L695.16 139.24L695.66 138.48L696.16 137.71L696.66 136.92L697.15 136.12L697.65 135.31L698.15 134.50L698.65 133.69L699.15 132.88L699.64 132.08L700.14 131.29L700.64 130.52L701.14 129.76L701.63 129.04L702.13 128.34L702.63 127.67L703.13 127.03L703.62 126.44L704.12 125.88L704.62 125.37L705.12 124.91L705.62 124.49L706.11 124.13L706.61 123.82L707.11 123.56L707.61 123.36L708.10 123.22L708.60 123.13L709.10 123.10L709.60 123.14L710.10 123.26L710.59 123.47L711.09 123.75L711.59 124.12L712.09 124.56L712.59 125.07L713.08 125.66L713.58 126.32L714.08 127.05L714.58 127.84L715.07 128.69L715.57 129.60L716.07 130.57L716.57 131.58L717.07 132.63L717.56 133.73L718.06 134.85L718.56 136.01L719.06 137.20L719.56 138.40L720.05 139.61L720.55 140.84L721.05 142.06L721.55 143.29L722.04 144.50L722.54 145.70L723.04 146.89L723.54 148.05L724.04 149.17L724.53 150.27L725.03 151.32L725.53 152.33L726.03 153.30L726.53 154.21L727.02 155.06L727.52 155.85L728.02 156.58L728.52 157.24L729.01 157.83L729.51 158.34L730.01 158.78L730.51 159.15L731.01 159.43L731.50 159.64L732.00 159.76L732.50 159.80L732.85 159.74L733.20 159.57L733.55 159.32L733.90 158.99L734.25 158.61L734.60 158.20L734.98 157.56L735.36 156.63L735.74 155.50L736.12 154.25L736.50 153.00L736.83 151.87L737.15 150.63L737.47 149.32L737.80 148.00L738.10 146.73L738.40 145.39L738.70 144.11L739.00 143.00L739.35 141.84L739.70 140.74L740.05 139.84L740.40 139.30L740.77 138.99L741.13 138.73L741.50 138.51L741.87 138.34L742.23 138.24L742.60 138.20L748.00 138.20" fill="none" stroke="#ff7f0e" stroke-width="2.08" stroke-linejoin="round" stroke-dasharray="7.71 3.33"/>
<rect x="77.50" y="32.50" width="703.00" height="212.00" fill="none" stroke="#000" stroke-width="1.11"/>
<line x1="187.50" y1="244.50" x2="187.50" y2="249.36" stroke="#000" stroke-width="1.11"/>
<rect x="178.10" y="259.93" width="8.70" height="1.15" fill="#000"/>
<text x="192.00" y="265.00" text-anchor="middle" font-size="14.10" textLength="7.84" lengthAdjust="spacingAndGlyphs">4</text>
<line x1="308.50" y1="244.50" x2="308.50" y2="249.36" stroke="#000" stroke-width="1.11"/>
<rect x="299.10" y="259.93" width="8.90" height="1.15" fill="#000"/>
<text x="312.45" y="265.00" text-anchor="middle" font-size="14.10" textLength="7.51" lengthAdjust="spacingAndGlyphs">2</text>
<line x1="429.50" y1="244.50" x2="429.50" y2="249.36" stroke="#000" stroke-width="1.11"/>
<text x="429.43" y="265.00" text-anchor="middle" font-size="14.10" textLength="7.75" lengthAdjust="spacingAndGlyphs">0</text>
<line x1="550.50" y1="244.50" x2="550.50" y2="249.36" stroke="#000" stroke-width="1.11"/>
<text x="549.20" y="265.00" text-anchor="middle" font-size="14.10" textLength="7.20" lengthAdjust="spacingAndGlyphs">2</text>
<line x1="671.50" y1="244.50" x2="671.50" y2="249.36" stroke="#000" stroke-width="1.11"/>
<text x="671.75" y="265.00" text-anchor="middle" font-size="14.10" textLength="7.49" lengthAdjust="spacingAndGlyphs">4</text>
<line x1="72.64" y1="66.50" x2="77.5" y2="66.50" stroke="#000" stroke-width="1.11"/>
<text x="67.04" y="71.00" text-anchor="end" font-size="14.10" textLength="25.27" lengthAdjust="spacingAndGlyphs">100</text>
<line x1="72.64" y1="102.50" x2="77.5" y2="102.50" stroke="#000" stroke-width="1.11"/>
<text x="66.90" y="108.00" text-anchor="end" font-size="14.10" textLength="15.60" lengthAdjust="spacingAndGlyphs">50</text>
<line x1="72.64" y1="138.50" x2="77.5" y2="138.50" stroke="#000" stroke-width="1.11"/>
<text x="68.40" y="144.00" text-anchor="end" font-size="14.10" textLength="6.91" lengthAdjust="spacingAndGlyphs">0</text>
<line x1="72.64" y1="175.50" x2="77.5" y2="175.50" stroke="#000" stroke-width="1.11"/>
<rect x="40.10" y="174.93" width="8.90" height="1.15" fill="#000"/>
<text x="66.57" y="180.00" text-anchor="end" font-size="14.10" textLength="16.27" lengthAdjust="spacingAndGlyphs">50</text>
<line x1="72.64" y1="211.50" x2="77.5" y2="211.50" stroke="#000" stroke-width="1.11"/>
<rect x="31.10" y="210.93" width="9.10" height="1.15" fill="#000"/>
<text x="66.15" y="216.00" text-anchor="end" font-size="14.10" textLength="25.47" lengthAdjust="spacingAndGlyphs">100</text>
<text x="428.50" y="24.00" text-anchor="middle" font-size="16.95" textLength="392.85" lengthAdjust="spacingAndGlyphs">x = 0.0 [um], y = 0.0 [um], f = 2.698e+14 [Hz]</text>
<text x="427.73" y="285.00" text-anchor="middle" font-size="14.10" textLength="102.82" lengthAdjust="spacingAndGlyphs">z position [um]</text>
<text transform="translate(21.70 140.40) rotate(-90)" x="-0.60" y="0" text-anchor="middle" font-size="14.10" textLength="43.97" lengthAdjust="spacingAndGlyphs">Re[Ex]</text>
<rect x="649.66" y="39.56" width="123.74" height="45.34" rx="2.8" ry="2.8" fill="#fff" fill-opacity="0.8" stroke="#cccccc" stroke-opacity="0.8" stroke-width="1.11"/>
<line x1="655.06" y1="50.95" x2="681.96" y2="50.95" stroke="#1f77b4" stroke-width="2.08" stroke-linecap="square"/>
<line x1="654.96" y1="71.97" x2="681.96" y2="71.97" stroke="#ff7f0e" stroke-width="2.08" stroke-dasharray="7.71 3.33"/>
<text x="693.51" y="56.00" text-anchor="start" font-size="14.10" textLength="73.02" lengthAdjust="spacingAndGlyphs">Simulation</text>
<text x="693.06" y="77.00" text-anchor="start" font-size="14.10" textLength="47.42" lengthAdjust="spacingAndGlyphs">Theory</text>
<path d="M109.00 430.50L112.80 430.50L113.80 430.00L114.80 428.90L115.28 428.62L115.77 427.79L116.25 426.47L116.73 424.75L117.22 422.75L117.70 420.60L118.18 418.45L118.67 416.45L119.15 414.73L119.63 413.41L120.12 412.58L120.60 412.30L121.10 412.36L121.60 412.55L122.10 412.86L122.60 413.30L123.10 413.85L123.60 414.52L124.10 415.30L124.60 416.18L125.10 417.17L125.60 418.24L126.10 419.39L126.60 420.62L127.10 421.92L127.60 423.28L128.10 424.68L128.60 426.11L129.10 427.58L129.60 429.06L130.10 430.54L130.60 432.02L131.10 433.49L131.60 434.92L132.10 436.32L132.60 437.68L133.10 438.98L133.60 440.21L134.10 441.36L134.60 442.43L135.10 443.42L135.60 444.30L136.10 445.08L136.60 445.75L137.10 446.30L137.60 446.74L138.10 447.05L138.60 447.24L139.10 447.30L139.60 447.27L140.09 447.19L140.59 447.05L141.08 446.85L141.58 446.61L142.07 446.30L142.57 445.95L143.07 445.55L143.56 445.10L144.06 444.60L144.55 444.06L145.05 443.47L145.54 442.85L146.04 442.19L146.54 441.50L147.03 440.78L147.53 440.03L148.02 439.26L148.52 438.47L149.01 437.66L149.51 436.84L150.01 436.01L150.50 435.17L151.00 434.33L151.49 433.49L151.99 432.66L152.49 431.84L152.98 431.03L153.48 430.24L153.97 429.47L154.47 428.72L154.96 428.00L155.46 427.31L155.96 426.65L156.45 426.03L156.95 425.44L157.44 424.90L157.94 424.40L158.43 423.95L158.93 423.55L159.43 423.20L159.92 422.89L160.42 422.65L160.91 422.45L161.41 422.31L161.90 422.23L162.40 422.20L162.89 422.21L163.38 422.24L163.87 422.29L164.36 422.37L164.85 422.46L165.34 422.57L165.83 422.71L166.33 422.86L166.82 423.02L167.31 423.21L167.80 423.41L168.29 423.62L168.78 423.85L169.27 424.09L169.76 424.34L170.25 424.61L170.74 424.87L171.23 425.15L171.72 425.43L172.21 425.72L172.70 426.01L173.20 426.29L173.69 426.58L174.18 426.87L174.67 427.15L175.16 427.43L175.65 427.69L176.14 427.96L176.63 428.21L177.12 428.45L177.61 428.68L178.10 428.89L178.59 429.09L179.08 429.28L179.57 429.44L180.07 429.59L180.56 429.73L181.05 429.84L181.54 429.93L182.03 430.01L182.52 430.06L183.01 430.09L183.50 430.10L184.00 430.10L184.50 430.10L185.00 430.11L185.50 430.11L186.00 430.11L186.50 430.12L187.00 430.12L187.50 430.13L188.00 430.14L188.50 430.14L189.00 430.14L189.50 430.15L190.00 430.15L190.50 430.15L190.99 430.14L191.48 430.10L191.97 430.03L192.46 429.94L192.95 429.83L193.44 429.69L193.93 429.53L194.42 429.34L194.91 429.14L195.40 428.91L195.89 428.67L196.38 428.41L196.87 428.13L197.36 427.84L197.85 427.54L198.34 427.23L198.83 426.91L199.32 426.59L199.81 426.26L200.30 425.93L200.79 425.59L201.28 425.26L201.77 424.94L202.26 424.62L202.75 424.31L203.24 424.01L203.73 423.72L204.22 423.44L204.71 423.18L205.20 422.94L205.69 422.71L206.18 422.51L206.67 422.32L207.16 422.16L207.65 422.02L208.14 421.91L208.63 421.82L209.12 421.75L209.61 421.71L210.10 421.70L210.60 421.73L211.10 421.81L211.59 421.94L212.09 422.12L212.59 422.35L213.09 422.64L213.59 422.97L214.08 423.35L214.58 423.78L215.08 424.25L215.58 424.77L216.08 425.32L216.57 425.91L217.07 426.54L217.57 427.20L218.07 427.89L218.57 428.61L219.06 429.35L219.56 430.11L220.06 430.89L220.56 431.69L221.06 432.50L221.55 433.32L222.05 434.14L222.55 434.96L223.05 435.78L223.54 436.60L224.04 437.41L224.54 438.21L225.04 438.99L225.54 439.75L226.03 440.49L226.53 441.21L227.03 441.90L227.53 442.56L228.03 443.19L228.52 443.78L229.02 444.33L229.52 444.85L230.02 445.32L230.52 445.75L231.01 446.13L231.51 446.46L232.01 446.75L232.51 446.98L233.01 447.16L233.50 447.29L234.00 447.37L234.50 447.40L235.00 447.35L235.50 447.21L236.00 446.98L236.50 446.65L237.00 446.23L237.50 445.73L238.00 445.13L238.50 444.45L239.00 443.70L239.50 442.86L240.00 441.95L240.50 440.97L241.00 439.92L241.50 438.82L242.00 437.65L242.50 436.44L243.00 435.18L243.50 433.88L244.00 432.55L244.50 431.19L245.00 429.81L245.50 428.41L246.00 427.01L246.50 425.59L247.00 424.19L247.50 422.79L248.00 421.41L248.50 420.05L249.00 418.72L249.50 417.42L250.00 416.16L250.50 414.95L251.00 413.78L251.50 412.68L252.00 411.63L252.50 410.65L253.00 409.74L253.50 408.90L254.00 408.15L254.50 407.47L255.00 406.87L255.50 406.37L256.00 405.95L256.50 405.62L257.00 405.39L257.50 405.25L258.00 405.20L258.49 405.26L258.99 405.45L259.48 405.76L259.98 406.19L260.47 406.74L260.96 407.42L261.46 408.20L261.95 409.10L262.44 410.10L262.94 411.21L263.43 412.42L263.93 413.72L264.42 415.11L264.91 416.59L265.41 418.13L265.90 419.75L266.39 421.43L266.89 423.16L267.38 424.95L267.88 426.77L268.37 428.62L268.86 430.50L269.36 432.40L269.85 434.30L270.34 436.20L270.84 438.10L271.33 439.98L271.82 441.83L272.32 443.65L272.81 445.44L273.31 447.17L273.80 448.85L274.29 450.47L274.79 452.01L275.28 453.49L275.77 454.88L276.27 456.18L276.76 457.39L277.26 458.50L277.75 459.50L278.24 460.40L278.74 461.18L279.23 461.86L279.72 462.41L280.22 462.84L280.71 463.15L281.21 463.34L281.70 463.40L282.20 463.32L282.69 463.09L283.19 462.70L283.68 462.15L284.18 461.45L284.68 460.61L285.17 459.62L285.67 458.49L286.16 457.22L286.66 455.82L287.15 454.30L287.65 452.66L288.15 450.91L288.64 449.05L289.14 447.10L289.63 445.06L290.13 442.95L290.62 440.76L291.12 438.51L291.62 436.22L292.11 433.88L292.61 431.51L293.10 429.12L293.60 426.73L294.10 424.33L294.59 421.94L295.09 419.57L295.58 417.23L296.08 414.94L296.57 412.69L297.07 410.50L297.57 408.39L298.06 406.35L298.56 404.40L299.05 402.54L299.55 400.79L300.05 399.15L300.54 397.63L301.04 396.23L301.53 394.96L302.03 393.83L302.52 392.84L303.02 392.00L303.52 391.30L304.01 390.75L304.51 390.36L305.00 390.13L305.50 390.05L306.00 390.15L306.50 390.45L307.00 390.94L307.50 391.62L308.00 392.50L308.50 393.56L309.00 394.81L309.50 396.23L310.00 397.82L310.50 399.58L311.00 401.49L311.50 403.55L312.00 405.74L312.50 408.06L313.00 410.50L313.50 413.05L314.00 415.69L314.50 418.41L315.00 421.21L315.50 424.06L316.00 426.96L316.50 429.89L317.00 432.85L317.50 435.80L318.00 438.76L318.50 441.69L319.00 444.59L319.50 447.44L320.00 450.24L320.50 452.96L321.00 455.60L321.50 458.15L322.00 460.59L322.50 462.91L323.00 465.10L323.50 467.16L324.00 469.07L324.50 470.83L325.00 472.42L325.50 473.84L326.00 475.09L326.50 476.15L327.00 477.03L327.50 477.71L328.00 478.20L328.50 478.50L329.00 478.60L329.50 478.49L330.00 478.16L330.49 477.60L330.99 476.83L331.49 475.85L331.99 474.66L332.49 473.26L332.98 471.66L333.48 469.87L333.98 467.90L334.48 465.75L334.98 463.43L335.47 460.95L335.97 458.33L336.47 455.58L336.97 452.70L337.46 449.71L337.96 446.62L338.46 443.45L338.96 440.21L339.46 436.91L339.95 433.56L340.45 430.19L340.95 426.80L341.45 423.41L341.95 420.04L342.44 416.69L342.94 413.39L343.44 410.15L343.94 406.98L344.44 403.89L344.93 400.90L345.43 398.02L345.93 395.27L346.43 392.65L346.92 390.17L347.42 387.85L347.92 385.70L348.42 383.73L348.92 381.94L349.41 380.34L349.91 378.94L350.41 377.75L350.91 376.77L351.41 376.00L351.90 375.44L352.40 375.11L352.90 375.00L353.39 375.13L353.88 375.50L354.38 376.13L354.87 377.01L355.36 378.12L355.85 379.48L356.34 381.07L356.83 382.88L357.32 384.92L357.82 387.16L358.31 389.60L358.80 392.24L359.29 395.05L359.78 398.02L360.27 401.15L360.77 404.43L361.26 407.82L361.75 411.33L362.24 414.93L362.73 418.62L363.22 422.37L363.72 426.17L364.21 430.00L364.70 433.85L365.19 437.70L365.68 441.53L366.18 445.33L366.67 449.08L367.16 452.77L367.65 456.37L368.14 459.88L368.63 463.27L369.12 466.55L369.62 469.68L370.11 472.65L370.60 475.46L371.09 478.10L371.58 480.54L372.07 482.78L372.57 484.82L373.06 486.63L373.55 488.22L374.04 489.58L374.53 490.69L375.02 491.57L375.52 492.20L376.01 492.57L376.50 492.70L377.00 492.56L377.50 492.14L378.00 491.45L378.50 490.48L379.00 489.25L379.50 487.75L380.00 485.99L380.50 483.98L381.00 481.74L381.50 479.26L382.00 476.56L382.50 473.65L383.00 470.54L383.50 467.25L384.00 463.79L384.50 460.18L385.00 456.42L385.50 452.54L386.00 448.56L386.50 444.49L387.00 440.34L387.50 436.14L388.00 431.90L388.50 427.65L389.00 423.40L389.50 419.16L390.00 414.96L390.50 410.81L391.00 406.74L391.50 402.76L392.00 398.88L392.50 395.12L393.00 391.51L393.50 388.05L394.00 384.76L394.50 381.65L395.00 378.74L395.50 376.04L396.00 373.56L396.50 371.32L397.00 369.31L397.50 367.55L398.00 366.05L398.50 364.82L399.00 363.85L399.50 363.16L400.00 362.74L400.50 362.60L401.00 362.76L401.50 363.23L402.00 364.02L402.50 365.12L403.00 366.52L403.50 368.22L404.00 370.22L404.50 372.49L405.00 375.04L405.50 377.85L406.00 380.90L406.50 384.20L407.00 387.71L407.50 391.42L408.00 395.33L408.50 399.40L409.00 403.63L409.50 407.99L410.00 412.46L410.50 417.03L411.00 421.67L411.50 426.36L412.00 431.08L412.50 435.82L413.00 440.54L413.50 445.23L414.00 449.87L414.50 454.44L415.00 458.91L415.50 463.27L416.00 467.50L416.50 471.57L417.00 475.48L417.50 479.19L418.00 482.70L418.50 486.00L419.00 489.05L419.50 491.86L420.00 494.41L420.50 496.68L421.00 498.68L421.50 500.38L422.00 501.78L422.50 502.88L423.00 503.67L423.50 504.14L424.00 504.30L424.50 504.14L425.00 503.65L425.49 502.83L425.99 501.69L426.49 500.24L426.99 498.47L427.49 496.41L427.98 494.04L428.48 491.40L428.98 488.48L429.48 485.30L429.98 481.88L430.47 478.22L430.97 474.35L431.47 470.28L431.97 466.03L432.46 461.61L432.96 457.04L433.46 452.36L433.96 447.56L434.46 442.68L434.95 437.74L435.45 432.76L435.95 427.75L436.45 422.74L436.95 417.76L437.44 412.82L437.94 407.94L438.44 403.14L438.94 398.46L439.44 393.89L439.93 389.48L440.43 385.22L440.93 381.15L441.43 377.28L441.92 373.62L442.42 370.20L442.92 367.02L443.42 364.10L443.92 361.46L444.41 359.09L444.91 357.03L445.41 355.26L445.91 353.81L446.41 352.67L446.90 351.85L447.40 351.36L447.90 351.20L448.39 351.37L448.88 351.90L449.38 352.76L449.87 353.97L450.36 355.51L450.85 357.38L451.34 359.58L451.83 362.09L452.32 364.89L452.82 367.99L453.31 371.36L453.80 375.00L454.29 378.88L454.78 382.99L455.27 387.31L455.77 391.82L456.26 396.51L456.75 401.36L457.24 406.33L457.73 411.42L458.22 416.60L458.72 421.84L459.21 427.14L459.70 432.45L460.19 437.76L460.68 443.06L461.18 448.30L461.67 453.48L462.16 458.57L462.65 463.54L463.14 468.39L463.63 473.08L464.12 477.59L464.62 481.91L465.11 486.02L465.60 489.90L466.09 493.54L466.58 496.91L467.07 500.01L467.57 502.81L468.06 505.32L468.55 507.52L469.04 509.39L469.53 510.93L470.02 512.14L470.52 513.00L471.01 513.53L471.50 513.70L472.00 513.52L472.49 512.97L472.99 512.06L473.48 510.79L473.98 509.17L474.48 507.21L474.97 504.90L475.47 502.27L475.96 499.32L476.46 496.07L476.95 492.53L477.45 488.72L477.95 484.64L478.44 480.33L478.94 475.79L479.43 471.05L479.93 466.13L480.43 461.04L480.92 455.82L481.42 450.48L481.91 445.04L482.41 439.53L482.90 433.98L483.40 428.40L483.90 422.82L484.39 417.27L484.89 411.76L485.38 406.32L485.88 400.98L486.38 395.76L486.87 390.67L487.37 385.75L487.86 381.01L488.36 376.47L488.85 372.16L489.35 368.08L489.85 364.27L490.34 360.73L490.84 357.48L491.33 354.53L491.83 351.90L492.32 349.59L492.82 347.63L493.32 346.01L493.81 344.74L494.31 343.83L494.80 343.28L495.30 343.10L495.79 343.29L496.29 343.86L496.78 344.81L497.28 346.13L497.77 347.82L498.26 349.86L498.76 352.26L499.25 355.00L499.74 358.07L500.24 361.46L500.73 365.15L501.23 369.12L501.72 373.37L502.21 377.86L502.71 382.59L503.20 387.52L503.69 392.65L504.19 397.95L504.68 403.39L505.18 408.95L505.67 414.62L506.16 420.35L506.66 426.14L507.15 431.95L507.64 437.76L508.14 443.55L508.63 449.28L509.12 454.95L509.62 460.51L510.11 465.95L510.61 471.25L511.10 476.37L511.59 481.31L512.09 486.04L512.58 490.53L513.08 494.78L513.57 498.75L514.06 502.44L514.56 505.83L515.05 508.90L515.54 511.64L516.04 514.04L516.53 516.08L517.02 517.77L517.52 519.09L518.01 520.04L518.51 520.61L519.00 520.80L519.50 520.60L520.00 520.01L520.49 519.04L520.99 517.67L521.49 515.93L521.99 513.81L522.49 511.33L522.98 508.49L523.48 505.32L523.98 501.82L524.48 498.01L524.98 493.90L525.47 489.51L525.97 484.86L526.47 479.98L526.97 474.88L527.46 469.57L527.96 464.10L528.46 458.47L528.96 452.72L529.46 446.87L529.95 440.94L530.45 434.96L530.95 428.95L531.45 422.94L531.95 416.96L532.44 411.03L532.94 405.18L533.44 399.43L533.94 393.80L534.44 388.33L534.93 383.03L535.43 377.92L535.93 373.04L536.43 368.39L536.92 364.00L537.42 359.89L537.92 356.08L538.42 352.58L538.92 349.41L539.41 346.57L539.91 344.09L540.41 341.97L540.91 340.23L541.41 338.86L541.90 337.89L542.40 337.30L542.90 337.10L543.40 337.31L543.90 337.94L544.40 338.98L544.90 340.44L545.40 342.30L545.90 344.56L546.40 347.21L546.90 350.23L547.40 353.61L547.90 357.34L548.40 361.40L548.90 365.77L549.40 370.43L549.90 375.36L550.40 380.54L550.90 385.95L551.40 391.56L551.90 397.35L552.40 403.29L552.90 409.35L553.40 415.51L553.90 421.74L554.40 428.01L554.90 434.29L555.40 440.56L555.90 446.79L556.40 452.95L556.90 459.01L557.40 464.95L557.90 470.74L558.40 476.35L558.90 481.76L559.40 486.94L559.90 491.87L560.40 496.53L560.90 500.90L561.40 504.96L561.90 508.69L562.40 512.07L562.90 515.09L563.40 517.74L563.90 520.00L564.40 521.86L564.90 523.32L565.40 524.36L565.90 524.99L566.40 525.20L566.90 525.00L567.40 524.38L567.89 523.37L568.39 521.95L568.89 520.13L569.39 517.93L569.89 515.36L570.38 512.41L570.88 509.11L571.38 505.48L571.88 501.51L572.38 497.24L572.87 492.68L573.37 487.86L573.87 482.78L574.37 477.48L574.86 471.97L575.36 466.28L575.86 460.43L576.36 454.45L576.86 448.37L577.35 442.21L577.85 435.99L578.35 429.75L578.85 423.51L579.35 417.29L579.84 411.13L580.34 405.05L580.84 399.07L581.34 393.22L581.84 387.53L582.33 382.03L582.83 376.72L583.33 371.64L583.83 366.82L584.32 362.26L584.82 357.99L585.32 354.02L585.82 350.39L586.32 347.09L586.81 344.14L587.31 341.57L587.81 339.37L588.31 337.55L588.81 336.13L589.30 335.12L589.80 334.50L590.30 334.30L590.79 334.51L591.29 335.12L591.78 336.15L592.27 337.58L592.77 339.41L593.26 341.63L593.76 344.23L594.25 347.20L594.74 350.53L595.24 354.20L595.73 358.20L596.22 362.51L596.72 367.10L597.21 371.98L597.71 377.10L598.20 382.45L598.69 388.01L599.19 393.75L599.68 399.65L600.17 405.68L600.67 411.81L601.16 418.03L601.66 424.30L602.15 430.60L602.64 436.90L603.14 443.17L603.63 449.39L604.12 455.52L604.62 461.55L605.11 467.45L605.61 473.19L606.10 478.75L606.59 484.10L607.09 489.22L607.58 494.10L608.08 498.69L608.57 503.00L609.06 507.00L609.56 510.67L610.05 514.00L610.54 516.97L611.04 519.57L611.53 521.79L612.02 523.62L612.52 525.05L613.01 526.08L613.51 526.69L614.00 526.90L614.50 526.69L615.00 526.04L615.50 524.98L616.00 523.49L616.50 521.59L617.00 519.28L617.50 516.58L618.00 513.49L618.50 510.04L619.00 506.23L619.50 502.09L620.00 497.62L620.50 492.86L621.00 487.82L621.50 482.53L622.00 477.01L622.50 471.28L623.00 465.37L623.50 459.31L624.00 453.12L624.50 446.83L625.00 440.46L625.50 434.06L626.00 427.64L626.50 421.24L627.00 414.87L627.50 408.58L628.00 402.39L628.50 396.33L629.00 390.42L629.50 384.69L630.00 379.17L630.50 373.88L631.00 368.84L631.50 364.08L632.00 359.61L632.50 355.47L633.00 351.66L633.50 348.21L634.00 345.12L634.50 342.42L635.00 340.11L635.50 338.21L636.00 336.72L636.50 335.66L637.00 335.01L637.50 334.80L637.99 335.00L638.49 335.58L638.98 336.56L639.48 337.92L639.97 339.67L640.46 341.78L640.96 344.26L641.45 347.09L641.94 350.26L642.44 353.76L642.93 357.58L643.43 361.70L643.92 366.10L644.41 370.76L644.91 375.66L645.40 380.79L645.90 386.13L646.39 391.64L646.88 397.32L647.38 403.13L647.87 409.05L648.37 415.06L648.86 421.13L649.35 427.24L649.85 433.36L650.34 439.47L650.83 445.54L651.33 451.55L651.82 457.47L652.32 463.28L652.81 468.96L653.30 474.47L653.80 479.81L654.29 484.94L654.79 489.84L655.28 494.50L655.77 498.90L656.27 503.02L656.76 506.84L657.26 510.34L657.75 513.51L658.24 516.34L658.74 518.82L659.23 520.93L659.72 522.68L660.22 524.04L660.71 525.02L661.21 525.60L661.70 525.80L662.19 525.61L662.68 525.03L663.18 524.07L663.67 522.73L664.16 521.01L664.65 518.93L665.14 516.49L665.63 513.70L666.13 510.58L666.62 507.13L667.11 503.38L667.60 499.32L668.09 495.00L668.59 490.41L669.08 485.58L669.57 480.53L670.06 475.28L670.55 469.85L671.04 464.26L671.54 458.55L672.03 452.72L672.52 446.80L673.01 440.83L673.50 434.81L674.00 428.79L674.49 422.77L674.98 416.80L675.47 410.88L675.96 405.05L676.46 399.34L676.95 393.75L677.44 388.32L677.93 383.07L678.42 378.02L678.91 373.19L679.41 368.60L679.90 364.28L680.39 360.22L680.88 356.47L681.37 353.02L681.87 349.90L682.36 347.11L682.85 344.67L683.34 342.59L683.83 340.87L684.32 339.53L684.82 338.57L685.31 337.99L685.80 337.80L686.30 338.01L686.79 338.65L687.29 339.71L687.78 341.19L688.28 343.08L688.77 345.37L689.27 348.05L689.77 351.11L690.26 354.54L690.76 358.31L691.25 362.42L691.75 366.83L692.24 371.54L692.74 376.51L693.23 381.73L693.73 387.18L694.23 392.82L694.72 398.63L695.22 404.58L695.71 410.64L696.21 416.80L696.70 423.01L697.20 429.25L697.70 435.49L698.19 441.70L698.69 447.86L699.18 453.92L699.68 459.87L700.17 465.68L700.67 471.32L701.17 476.77L701.66 481.99L702.16 486.96L702.65 491.67L703.15 496.08L703.64 500.19L704.14 503.96L704.63 507.39L705.13 510.45L705.63 513.13L706.12 515.42L706.62 517.31L707.11 518.79L707.61 519.85L708.10 520.49L708.60 520.70L709.10 520.51L709.60 519.94L710.10 519.00L710.60 517.68L711.10 516.00L711.60 513.95L712.10 511.56L712.60 508.82L713.10 505.76L713.60 502.38L714.10 498.70L714.60 494.74L715.10 490.50L715.60 486.02L716.10 481.30L716.60 476.38L717.10 471.26L717.60 465.97L718.10 460.55L718.60 454.99L719.10 449.34L719.60 443.62L720.10 437.85L720.60 432.05L721.10 426.25L721.60 420.48L722.10 414.76L722.60 409.11L723.10 403.55L723.60 398.13L724.10 392.84L724.60 387.73L725.10 382.80L725.60 378.08L726.10 373.60L726.60 369.36L727.10 365.40L727.60 361.72L728.10 358.34L728.60 355.28L729.10 352.54L729.60 350.15L730.10 348.10L730.60 346.42L731.10 345.10L731.60 344.16L732.10 343.59L732.60 343.40L732.92 343.70L733.24 344.54L733.56 345.78L733.88 347.30L734.20 349.00L734.57 351.96L734.93 356.50L735.30 362.09L735.67 368.23L736.03 374.37L736.40 380.00L736.75 385.24L737.10 390.87L737.45 396.66L737.80 402.39L738.15 407.81L738.50 412.71L738.85 416.85L739.20 420.00L739.60 422.83L740.00 425.29L740.40 427.21L740.80 428.40L741.16 429.06L741.52 429.64L741.88 430.09L742.24 430.39L742.60 430.50L748.00 430.50" fill="none" stroke="#1f77b4" stroke-width="2.08" stroke-linejoin="round" stroke-linecap="square"/>
<path d="M109.00 430.50L112.80 430.50L113.80 430.00L114.80 428.90L115.30 428.62L115.80 427.82L116.30 426.55L116.80 424.92L117.30 423.07L117.80 421.13L118.30 419.28L118.80 417.65L119.30 416.38L119.80 415.58L120.30 415.30L120.79 415.36L121.28 415.52L121.77 415.80L122.26 416.18L122.75 416.67L123.24 417.26L123.72 417.94L124.21 418.72L124.70 419.58L125.19 420.53L125.68 421.54L126.17 422.63L126.66 423.77L127.15 424.96L127.64 426.19L128.13 427.46L128.62 428.74L129.11 430.05L129.59 431.35L130.08 432.66L130.57 433.94L131.06 435.21L131.55 436.44L132.04 437.63L132.53 438.77L133.02 439.86L133.51 440.87L134.00 441.82L134.49 442.68L134.98 443.46L135.46 444.14L135.95 444.73L136.44 445.22L136.93 445.60L137.42 445.88L137.91 446.04L138.40 446.10L138.90 446.07L139.39 445.99L139.89 445.86L140.38 445.67L140.88 445.43L141.37 445.14L141.87 444.79L142.37 444.40L142.86 443.97L143.36 443.49L143.85 442.96L144.35 442.40L144.84 441.80L145.34 441.17L145.83 440.50L146.33 439.81L146.83 439.09L147.32 438.35L147.82 437.59L148.31 436.82L148.81 436.04L149.30 435.25L149.80 434.45L150.30 433.65L150.79 432.86L151.29 432.08L151.78 431.31L152.28 430.55L152.77 429.81L153.27 429.09L153.77 428.40L154.26 427.73L154.76 427.10L155.25 426.50L155.75 425.94L156.24 425.41L156.74 424.93L157.23 424.50L157.73 424.11L158.23 423.76L158.72 423.47L159.22 423.23L159.71 423.04L160.21 422.91L160.70 422.83L161.20 422.80L161.70 422.81L162.19 422.84L162.69 422.90L163.18 422.98L163.68 423.07L164.17 423.19L164.67 423.33L165.16 423.49L165.66 423.67L166.16 423.86L166.65 424.08L167.15 424.31L167.64 424.55L168.14 424.81L168.63 425.07L169.13 425.36L169.62 425.65L170.12 425.94L170.62 426.25L171.11 426.56L171.61 426.87L172.10 427.19L172.60 427.51L173.09 427.83L173.59 428.14L174.08 428.45L174.58 428.76L175.08 429.05L175.57 429.34L176.07 429.62L176.56 429.89L177.06 430.15L177.55 430.39L178.05 430.62L178.54 430.84L179.04 431.03L179.54 431.21L180.03 431.37L180.53 431.51L181.02 431.63L181.52 431.72L182.01 431.80L182.51 431.86L183.00 431.89L183.50 431.90L184.00 431.90L184.50 431.90L185.00 431.90L185.50 431.90L186.00 431.90L186.50 431.90L187.00 431.90L187.50 431.90L188.00 431.90L188.50 431.90L189.00 431.90L189.50 431.90L190.00 431.90L190.50 431.90L191.00 431.90L191.50 431.89L191.99 431.85L192.49 431.79L192.98 431.70L193.48 431.59L193.97 431.46L194.47 431.30L194.96 431.13L195.46 430.93L195.95 430.71L196.45 430.48L196.94 430.22L197.44 429.96L197.93 429.68L198.43 429.38L198.92 429.08L199.42 428.76L199.91 428.44L200.41 428.11L200.90 427.78L201.40 427.45L201.90 427.12L202.39 426.79L202.89 426.46L203.38 426.14L203.88 425.82L204.37 425.52L204.87 425.23L205.36 424.94L205.86 424.68L206.35 424.42L206.85 424.19L207.34 423.97L207.84 423.77L208.33 423.60L208.83 423.44L209.32 423.31L209.82 423.20L210.31 423.11L210.81 423.05L211.30 423.01L211.80 423.00L212.30 423.03L212.80 423.10L213.30 423.23L213.80 423.41L214.30 423.64L214.80 423.92L215.30 424.24L215.80 424.61L216.30 425.03L216.80 425.49L217.30 425.98L217.80 426.52L218.30 427.09L218.80 427.70L219.30 428.34L219.80 429.00L220.30 429.69L220.80 430.40L221.30 431.13L221.80 431.87L222.30 432.63L222.80 433.39L223.30 434.16L223.80 434.94L224.30 435.71L224.80 436.47L225.30 437.23L225.80 437.97L226.30 438.70L226.80 439.41L227.30 440.10L227.80 440.76L228.30 441.40L228.80 442.01L229.30 442.58L229.80 443.12L230.30 443.61L230.80 444.07L231.30 444.49L231.80 444.86L232.30 445.18L232.80 445.46L233.30 445.69L233.80 445.87L234.30 446.00L234.80 446.07L235.30 446.10L235.80 446.06L236.30 445.92L236.79 445.70L237.29 445.39L237.79 444.99L238.29 444.51L238.78 443.95L239.28 443.31L239.78 442.59L240.28 441.80L240.78 440.95L241.27 440.02L241.77 439.04L242.27 437.99L242.77 436.90L243.27 435.76L243.76 434.58L244.26 433.36L244.76 432.12L245.26 430.85L245.75 429.56L246.25 428.26L246.75 426.95L247.25 425.64L247.75 424.34L248.24 423.05L248.74 421.78L249.24 420.54L249.74 419.32L250.23 418.14L250.73 417.00L251.23 415.91L251.73 414.86L252.23 413.88L252.72 412.95L253.22 412.10L253.72 411.31L254.22 410.59L254.72 409.95L255.21 409.39L255.71 408.91L256.21 408.51L256.71 408.20L257.20 407.98L257.70 407.84L258.20 407.80L258.70 407.85L259.20 408.01L259.70 408.28L260.20 408.65L260.70 409.12L261.20 409.70L261.70 410.37L262.20 411.14L262.70 412.00L263.20 412.95L263.70 413.99L264.20 415.11L264.70 416.30L265.20 417.57L265.70 418.90L266.20 420.30L266.70 421.75L267.20 423.25L267.70 424.79L268.20 426.37L268.70 427.98L269.20 429.61L269.70 431.26L270.20 432.92L270.70 434.58L271.20 436.24L271.70 437.89L272.20 439.52L272.70 441.13L273.20 442.71L273.70 444.25L274.20 445.75L274.70 447.20L275.20 448.60L275.70 449.93L276.20 451.20L276.70 452.39L277.20 453.51L277.70 454.55L278.20 455.50L278.70 456.36L279.20 457.13L279.70 457.80L280.20 458.38L280.70 458.85L281.20 459.22L281.70 459.49L282.20 459.65L282.70 459.70L283.20 459.62L283.70 459.39L284.19 459.01L284.69 458.47L285.19 457.79L285.69 456.96L286.18 455.99L286.68 454.89L287.18 453.65L287.68 452.29L288.18 450.80L288.67 449.21L289.17 447.51L289.67 445.71L290.17 443.82L290.67 441.86L291.16 439.82L291.66 437.72L292.16 435.57L292.66 433.37L293.15 431.15L293.65 428.91L294.15 426.65L294.65 424.39L295.15 422.15L295.64 419.93L296.14 417.73L296.64 415.58L297.14 413.48L297.63 411.44L298.13 409.48L298.63 407.59L299.13 405.79L299.63 404.09L300.12 402.50L300.62 401.01L301.12 399.65L301.62 398.41L302.12 397.31L302.61 396.34L303.11 395.51L303.61 394.83L304.11 394.29L304.60 393.91L305.10 393.68L305.60 393.60L306.10 393.69L306.60 393.96L307.09 394.40L307.59 395.03L308.09 395.82L308.59 396.79L309.09 397.92L309.58 399.20L310.08 400.65L310.58 402.24L311.08 403.97L311.57 405.84L312.07 407.83L312.57 409.93L313.07 412.15L313.57 414.45L314.06 416.85L314.56 419.32L315.06 421.85L315.56 424.44L316.06 427.07L316.55 429.73L317.05 432.41L317.55 435.09L318.05 437.77L318.54 440.43L319.04 443.06L319.54 445.65L320.04 448.18L320.54 450.65L321.03 453.05L321.53 455.35L322.03 457.57L322.53 459.67L323.03 461.66L323.52 463.53L324.02 465.26L324.52 466.85L325.02 468.30L325.51 469.58L326.01 470.71L326.51 471.68L327.01 472.47L327.51 473.10L328.00 473.54L328.50 473.81L329.00 473.90L329.50 473.80L330.00 473.50L330.49 473.00L330.99 472.31L331.49 471.42L331.99 470.34L332.49 469.07L332.98 467.63L333.48 466.01L333.98 464.23L334.48 462.29L334.98 460.19L335.47 457.96L335.97 455.59L336.47 453.10L336.97 450.50L337.46 447.80L337.96 445.01L338.46 442.14L338.96 439.21L339.46 436.23L339.95 433.21L340.45 430.16L340.95 427.10L341.45 424.04L341.95 420.99L342.44 417.97L342.94 414.99L343.44 412.06L343.94 409.19L344.44 406.40L344.93 403.70L345.43 401.10L345.93 398.61L346.43 396.24L346.92 394.01L347.42 391.91L347.92 389.97L348.42 388.19L348.92 386.57L349.41 385.13L349.91 383.86L350.41 382.78L350.91 381.89L351.41 381.20L351.90 380.70L352.40 380.40L352.90 380.30L353.39 380.41L353.88 380.76L354.38 381.32L354.87 382.12L355.36 383.13L355.85 384.36L356.34 385.80L356.83 387.44L357.32 389.28L357.82 391.31L358.31 393.53L358.80 395.91L359.29 398.46L359.78 401.15L360.27 403.99L360.77 406.95L361.26 410.03L361.75 413.20L362.24 416.47L362.73 419.80L363.22 423.20L363.72 426.64L364.21 430.11L364.70 433.60L365.19 437.09L365.68 440.56L366.18 444.00L366.67 447.40L367.16 450.73L367.65 454.00L368.14 457.17L368.63 460.25L369.12 463.21L369.62 466.05L370.11 468.74L370.60 471.29L371.09 473.67L371.58 475.89L372.07 477.92L372.57 479.76L373.06 481.40L373.55 482.84L374.04 484.07L374.53 485.08L375.02 485.88L375.52 486.44L376.01 486.79L376.50 486.90L377.00 486.77L377.50 486.39L378.00 485.76L378.50 484.88L379.00 483.75L379.50 482.38L380.00 480.78L380.50 478.95L381.00 476.89L381.50 474.63L382.00 472.17L382.50 469.51L383.00 466.67L383.50 463.67L384.00 460.51L384.50 457.21L385.00 453.79L385.50 450.25L386.00 446.61L386.50 442.89L387.00 439.11L387.50 435.27L388.00 431.41L388.50 427.52L389.00 423.64L389.50 419.78L390.00 415.94L390.50 412.16L391.00 408.44L391.50 404.80L392.00 401.26L392.50 397.84L393.00 394.54L393.50 391.38L394.00 388.38L394.50 385.54L395.00 382.88L395.50 380.42L396.00 378.16L396.50 376.10L397.00 374.27L397.50 372.67L398.00 371.30L398.50 370.17L399.00 369.29L399.50 368.66L400.00 368.28L400.50 368.15L401.00 368.30L401.50 368.73L402.00 369.45L402.50 370.46L403.00 371.75L403.50 373.31L404.00 375.14L404.50 377.23L405.00 379.57L405.50 382.14L406.00 384.95L406.50 387.97L407.00 391.19L407.50 394.60L408.00 398.19L408.50 401.93L409.00 405.80L409.50 409.80L410.00 413.91L410.50 418.10L411.00 422.36L411.50 426.67L412.00 431.00L412.50 435.35L413.00 439.68L413.50 443.99L414.00 448.25L414.50 452.44L415.00 456.55L415.50 460.55L416.00 464.42L416.50 468.16L417.00 471.75L417.50 475.16L418.00 478.38L418.50 481.40L419.00 484.21L419.50 486.78L420.00 489.12L420.50 491.21L421.00 493.04L421.50 494.60L422.00 495.89L422.50 496.90L423.00 497.62L423.50 498.05L424.00 498.20L424.50 498.05L425.00 497.60L425.49 496.85L425.99 495.80L426.49 494.46L426.99 492.84L427.49 490.93L427.98 488.76L428.48 486.33L428.98 483.64L429.48 480.72L429.98 477.57L430.47 474.20L430.97 470.64L431.47 466.89L431.97 462.98L432.46 458.91L432.96 454.71L433.46 450.40L433.96 445.98L434.46 441.49L434.95 436.95L435.45 432.36L435.95 427.75L436.45 423.14L436.95 418.55L437.44 414.01L437.94 409.52L438.44 405.10L438.94 400.79L439.44 396.59L439.93 392.53L440.43 388.61L440.93 384.86L441.43 381.30L441.92 377.93L442.42 374.78L442.92 371.86L443.42 369.17L443.92 366.74L444.41 364.57L444.91 362.66L445.41 361.04L445.91 359.70L446.41 358.65L446.90 357.90L447.40 357.45L447.90 357.30L448.39 357.46L448.88 357.94L449.38 358.75L449.87 359.87L450.36 361.30L450.85 363.03L451.34 365.07L451.83 367.39L452.32 369.99L452.82 372.86L453.31 375.99L453.80 379.35L454.29 382.95L454.78 386.76L455.27 390.77L455.77 394.95L456.26 399.30L456.75 403.78L457.24 408.40L457.73 413.11L458.22 417.91L458.72 422.77L459.21 427.68L459.70 432.60L460.19 437.52L460.68 442.43L461.18 447.29L461.67 452.09L462.16 456.80L462.65 461.42L463.14 465.90L463.63 470.25L464.12 474.43L464.62 478.44L465.11 482.25L465.60 485.85L466.09 489.21L466.58 492.34L467.07 495.21L467.57 497.81L468.06 500.13L468.55 502.17L469.04 503.90L469.53 505.33L470.02 506.45L470.52 507.26L471.01 507.74L471.50 507.90L472.00 507.73L472.49 507.22L472.99 506.37L473.48 505.19L473.98 503.68L474.48 501.84L474.97 499.69L475.47 497.24L475.96 494.48L476.46 491.45L476.95 488.15L477.45 484.59L477.95 480.78L478.44 476.76L478.94 472.52L479.43 468.10L479.93 463.51L480.43 458.76L480.92 453.89L481.42 448.90L481.91 443.83L482.41 438.69L482.90 433.51L483.40 428.30L483.90 423.09L484.39 417.91L484.89 412.77L485.38 407.70L485.88 402.71L486.38 397.84L486.87 393.09L487.37 388.50L487.86 384.08L488.36 379.84L488.85 375.82L489.35 372.01L489.85 368.45L490.34 365.15L490.84 362.12L491.33 359.36L491.83 356.91L492.32 354.76L492.82 352.92L493.32 351.41L493.81 350.23L494.31 349.38L494.80 348.87L495.30 348.70L495.79 348.88L496.29 349.41L496.78 350.30L497.28 351.53L497.77 353.11L498.26 355.03L498.76 357.28L499.25 359.84L499.74 362.71L500.24 365.88L500.73 369.33L501.23 373.05L501.72 377.03L502.21 381.23L502.71 385.65L503.20 390.27L503.69 395.07L504.19 400.03L504.68 405.12L505.18 410.33L505.67 415.63L506.16 421.00L506.66 426.41L507.15 431.85L507.64 437.29L508.14 442.70L508.63 448.07L509.12 453.37L509.62 458.58L510.11 463.67L510.61 468.63L511.10 473.42L511.59 478.05L512.09 482.47L512.58 486.67L513.08 490.65L513.57 494.37L514.06 497.82L514.56 500.99L515.05 503.86L515.54 506.42L516.04 508.67L516.53 510.59L517.02 512.17L517.52 513.40L518.01 514.29L518.51 514.82L519.00 515.00L519.50 514.82L520.00 514.26L520.49 513.34L520.99 512.06L521.49 510.43L521.99 508.44L522.49 506.12L522.98 503.46L523.48 500.48L523.98 497.20L524.48 493.62L524.98 489.77L525.47 485.65L525.97 481.29L526.47 476.71L526.97 471.93L527.46 466.95L527.96 461.82L528.46 456.54L528.96 451.15L529.46 445.66L529.95 440.09L530.45 434.48L530.95 428.85L531.45 423.22L531.95 417.61L532.44 412.04L532.94 406.55L533.44 401.16L533.94 395.88L534.44 390.75L534.93 385.77L535.43 380.99L535.93 376.41L536.43 372.05L536.92 367.93L537.42 364.08L537.92 360.50L538.42 357.22L538.92 354.24L539.41 351.58L539.91 349.26L540.41 347.27L540.91 345.64L541.41 344.36L541.90 343.44L542.40 342.88L542.90 342.70L543.40 342.90L543.90 343.50L544.40 344.50L544.90 345.89L545.40 347.66L545.90 349.81L546.40 352.34L546.90 355.21L547.40 358.44L547.90 361.99L548.40 365.86L548.90 370.03L549.40 374.47L549.90 379.17L550.40 384.11L550.90 389.27L551.40 394.61L551.90 400.13L552.40 405.79L552.90 411.57L553.40 417.44L553.90 423.38L554.40 429.35L554.90 435.35L555.40 441.32L555.90 447.26L556.40 453.13L556.90 458.91L557.40 464.57L557.90 470.09L558.40 475.43L558.90 480.59L559.40 485.53L559.90 490.23L560.40 494.67L560.90 498.84L561.40 502.71L561.90 506.26L562.40 509.49L562.90 512.36L563.40 514.89L563.90 517.04L564.40 518.81L564.90 520.20L565.40 521.20L565.90 521.80L566.40 522.00L566.90 521.80L567.40 521.21L567.89 520.22L568.39 518.84L568.89 517.08L569.39 514.94L569.89 512.44L570.38 509.58L570.88 506.38L571.38 502.84L571.88 499.00L572.38 494.85L572.87 490.42L573.37 485.73L573.87 480.80L574.37 475.65L574.86 470.30L575.36 464.77L575.86 459.10L576.36 453.29L576.86 447.38L577.35 441.40L577.85 435.36L578.35 429.30L578.85 423.24L579.35 417.20L579.84 411.22L580.34 405.31L580.84 399.50L581.34 393.83L581.84 388.30L582.33 382.95L582.83 377.80L583.33 372.87L583.83 368.18L584.32 363.75L584.82 359.60L585.32 355.76L585.82 352.22L586.32 349.02L586.81 346.16L587.31 343.66L587.81 341.52L588.31 339.76L588.81 338.38L589.30 337.39L589.80 336.80L590.30 336.60L590.79 336.80L591.29 337.41L591.78 338.43L592.27 339.84L592.77 341.64L593.26 343.83L593.76 346.40L594.25 349.33L594.74 352.61L595.24 356.23L595.73 360.18L596.22 364.42L596.72 368.96L597.21 373.77L597.71 378.82L598.20 384.10L598.69 389.58L599.19 395.25L599.68 401.06L600.17 407.01L600.67 413.07L601.16 419.20L601.66 425.39L602.15 431.60L602.64 437.81L603.14 444.00L603.63 450.13L604.12 456.19L604.62 462.14L605.11 467.95L605.61 473.62L606.10 479.10L606.59 484.38L607.09 489.43L607.58 494.24L608.08 498.78L608.57 503.02L609.06 506.97L609.56 510.59L610.05 513.87L610.54 516.80L611.04 519.37L611.53 521.56L612.02 523.36L612.52 524.77L613.01 525.79L613.51 526.40L614.00 526.60L614.50 526.39L615.00 525.74L615.50 524.68L616.00 523.19L616.50 521.29L617.00 518.99L617.50 516.29L618.00 513.21L618.50 509.76L619.00 505.96L619.50 501.82L620.00 497.37L620.50 492.62L621.00 487.59L621.50 482.30L622.00 476.79L622.50 471.07L623.00 465.17L623.50 459.11L624.00 452.93L624.50 446.65L625.00 440.30L625.50 433.90L626.00 427.50L626.50 421.10L627.00 414.75L627.50 408.47L628.00 402.29L628.50 396.23L629.00 390.33L629.50 384.61L630.00 379.10L630.50 373.81L631.00 368.78L631.50 364.03L632.00 359.58L632.50 355.44L633.00 351.64L633.50 348.19L634.00 345.11L634.50 342.41L635.00 340.11L635.50 338.21L636.00 336.72L636.50 335.66L637.00 335.01L637.50 334.80L637.99 335.00L638.49 335.58L638.98 336.56L639.48 337.92L639.97 339.66L640.46 341.78L640.96 344.25L641.45 347.08L641.94 350.25L642.44 353.76L642.93 357.57L643.43 361.68L643.92 366.08L644.41 370.74L644.91 375.64L645.40 380.77L645.90 386.10L646.39 391.61L646.88 397.28L647.38 403.09L647.87 409.01L648.37 415.02L648.86 421.08L649.35 427.19L649.85 433.31L650.34 439.42L650.83 445.48L651.33 451.49L651.82 457.41L652.32 463.22L652.81 468.89L653.30 474.40L653.80 479.73L654.29 484.86L654.79 489.76L655.28 494.42L655.77 498.82L656.27 502.93L656.76 506.74L657.26 510.25L657.75 513.42L658.24 516.25L658.74 518.72L659.23 520.84L659.72 522.58L660.22 523.94L660.71 524.92L661.21 525.50L661.70 525.70L662.20 525.49L662.69 524.85L663.19 523.79L663.68 522.31L664.18 520.42L664.67 518.13L665.17 515.44L665.67 512.38L666.16 508.94L666.66 505.16L667.15 501.04L667.65 496.61L668.14 491.88L668.64 486.87L669.14 481.61L669.63 476.12L670.13 470.43L670.62 464.56L671.12 458.53L671.61 452.38L672.11 446.13L672.61 439.80L673.10 433.44L673.60 427.06L674.09 420.70L674.59 414.37L675.09 408.12L675.58 401.97L676.08 395.94L676.57 390.07L677.07 384.38L677.56 378.89L678.06 373.63L678.56 368.62L679.05 363.89L679.55 359.46L680.04 355.34L680.54 351.56L681.03 348.12L681.53 345.06L682.03 342.37L682.52 340.08L683.02 338.19L683.51 336.71L684.01 335.65L684.50 335.01L685.00 334.80L685.49 335.00L685.98 335.61L686.48 336.63L686.97 338.04L687.46 339.85L687.95 342.05L688.44 344.62L688.93 347.55L689.42 350.84L689.92 354.47L690.41 358.42L690.90 362.68L691.39 367.23L691.88 372.05L692.38 377.11L692.87 382.40L693.36 387.89L693.85 393.57L694.34 399.40L694.83 405.36L695.33 411.43L695.82 417.57L696.31 423.77L696.80 430.00L697.29 436.23L697.78 442.43L698.27 448.57L698.77 454.64L699.26 460.60L699.75 466.43L700.24 472.11L700.73 477.60L701.23 482.89L701.72 487.95L702.21 492.77L702.70 497.32L703.19 501.58L703.68 505.53L704.18 509.16L704.67 512.45L705.16 515.38L705.65 517.95L706.14 520.15L706.63 521.96L707.12 523.37L707.62 524.39L708.11 525.00L708.60 525.20L709.10 524.99L709.60 524.36L710.10 523.32L710.60 521.86L711.10 520.00L711.60 517.75L712.10 515.11L712.60 512.09L713.10 508.72L713.60 504.99L714.10 500.94L714.60 496.58L715.10 491.92L715.60 487.00L716.10 481.83L716.60 476.43L717.10 470.83L717.60 465.05L718.10 459.12L718.60 453.07L719.10 446.92L719.60 440.70L720.10 434.44L720.60 428.16L721.10 421.90L721.60 415.68L722.10 409.53L722.60 403.48L723.10 397.55L723.60 391.77L724.10 386.17L724.60 380.77L725.10 375.60L725.60 370.68L726.10 366.02L726.60 361.66L727.10 357.61L727.60 353.88L728.10 350.51L728.60 347.49L729.10 344.85L729.60 342.60L730.10 340.74L730.60 339.28L731.10 338.24L731.60 337.61L732.10 337.40L732.46 337.83L732.82 338.99L733.18 340.69L733.54 342.76L733.90 345.00L734.26 347.97L734.61 352.18L734.97 357.27L735.33 362.93L735.69 368.83L736.04 374.63L736.40 380.00L736.75 385.23L737.10 390.85L737.45 396.64L737.80 402.37L738.15 407.80L738.50 412.70L738.85 416.85L739.20 420.00L739.60 422.83L740.00 425.29L740.40 427.21L740.80 428.40L741.16 429.06L741.52 429.64L741.88 430.09L742.24 430.39L742.60 430.50L748.00 430.50" fill="none" stroke="#ff7f0e" stroke-width="2.08" stroke-linejoin="round" stroke-dasharray="7.71 3.33"/>
<rect x="77.50" y="325.50" width="703.00" height="212.00" fill="none" stroke="#000" stroke-width="1.11"/>
<line x1="187.50" y1="537.50" x2="187.50" y2="542.36" stroke="#000" stroke-width="1.11"/>
<rect x="178.10" y="551.92" width="8.70" height="1.15" fill="#000"/>
<text x="192.00" y="557.00" text-anchor="middle" font-size="14.10" textLength="7.84" lengthAdjust="spacingAndGlyphs">4</text>
<line x1="308.50" y1="537.50" x2="308.50" y2="542.36" stroke="#000" stroke-width="1.11"/>
<rect x="299.10" y="551.92" width="8.90" height="1.15" fill="#000"/>
<text x="312.45" y="557.00" text-anchor="middle" font-size="14.10" textLength="7.51" lengthAdjust="spacingAndGlyphs">2</text>
<line x1="429.50" y1="537.50" x2="429.50" y2="542.36" stroke="#000" stroke-width="1.11"/>
<text x="429.43" y="557.00" text-anchor="middle" font-size="14.10" textLength="7.75" lengthAdjust="spacingAndGlyphs">0</text>
<line x1="550.50" y1="537.50" x2="550.50" y2="542.36" stroke="#000" stroke-width="1.11"/>
<text x="549.20" y="557.00" text-anchor="middle" font-size="14.10" textLength="7.20" lengthAdjust="spacingAndGlyphs">2</text>
<line x1="671.50" y1="537.50" x2="671.50" y2="542.36" stroke="#000" stroke-width="1.11"/>
<text x="671.75" y="557.00" text-anchor="middle" font-size="14.10" textLength="7.49" lengthAdjust="spacingAndGlyphs">4</text>
<line x1="72.64" y1="358.50" x2="77.5" y2="358.50" stroke="#000" stroke-width="1.11"/>
<text x="67.04" y="364.00" text-anchor="end" font-size="14.10" textLength="25.27" lengthAdjust="spacingAndGlyphs">100</text>
<line x1="72.64" y1="394.50" x2="77.5" y2="394.50" stroke="#000" stroke-width="1.11"/>
<text x="66.90" y="400.00" text-anchor="end" font-size="14.10" textLength="15.60" lengthAdjust="spacingAndGlyphs">50</text>
<line x1="72.64" y1="431.50" x2="77.5" y2="431.50" stroke="#000" stroke-width="1.11"/>
<text x="68.40" y="436.00" text-anchor="end" font-size="14.10" textLength="6.91" lengthAdjust="spacingAndGlyphs">0</text>
<line x1="72.64" y1="467.50" x2="77.5" y2="467.50" stroke="#000" stroke-width="1.11"/>
<rect x="40.10" y="466.93" width="8.90" height="1.15" fill="#000"/>
<text x="66.57" y="472.00" text-anchor="end" font-size="14.10" textLength="16.27" lengthAdjust="spacingAndGlyphs">50</text>
<line x1="72.64" y1="503.50" x2="77.5" y2="503.50" stroke="#000" stroke-width="1.11"/>
<rect x="31.10" y="503.93" width="9.10" height="1.15" fill="#000"/>
<text x="66.15" y="509.00" text-anchor="end" font-size="14.10" textLength="25.47" lengthAdjust="spacingAndGlyphs">100</text>
<text x="428.50" y="316.00" text-anchor="middle" font-size="16.95" textLength="392.85" lengthAdjust="spacingAndGlyphs">x = 0.0 [um], y = 0.0 [um], f = 2.698e+14 [Hz]</text>
<text x="427.73" y="577.00" text-anchor="middle" font-size="14.10" textLength="102.82" lengthAdjust="spacingAndGlyphs">z position [um]</text>
<text transform="translate(20.90 434.00) rotate(-90)" x="-0.60" y="0" text-anchor="middle" font-size="14.10" textLength="43.97" lengthAdjust="spacingAndGlyphs">Re[Ey]</text>
<rect x="84.56" y="332.56" width="123.74" height="45.34" rx="2.8" ry="2.8" fill="#fff" fill-opacity="0.8" stroke="#cccccc" stroke-opacity="0.8" stroke-width="1.11"/>
<line x1="89.96" y1="343.95" x2="116.86" y2="343.95" stroke="#1f77b4" stroke-width="2.08" stroke-linecap="square"/>
<line x1="89.86" y1="364.97" x2="116.86" y2="364.97" stroke="#ff7f0e" stroke-width="2.08" stroke-dasharray="7.71 3.33"/>
<text x="128.41" y="349.00" text-anchor="start" font-size="14.10" textLength="73.02" lengthAdjust="spacingAndGlyphs">Simulation</text>
<text x="127.96" y="370.00" text-anchor="start" font-size="14.10" textLength="47.42" lengthAdjust="spacingAndGlyphs">Theory</text>
</svg>
</body></html>
